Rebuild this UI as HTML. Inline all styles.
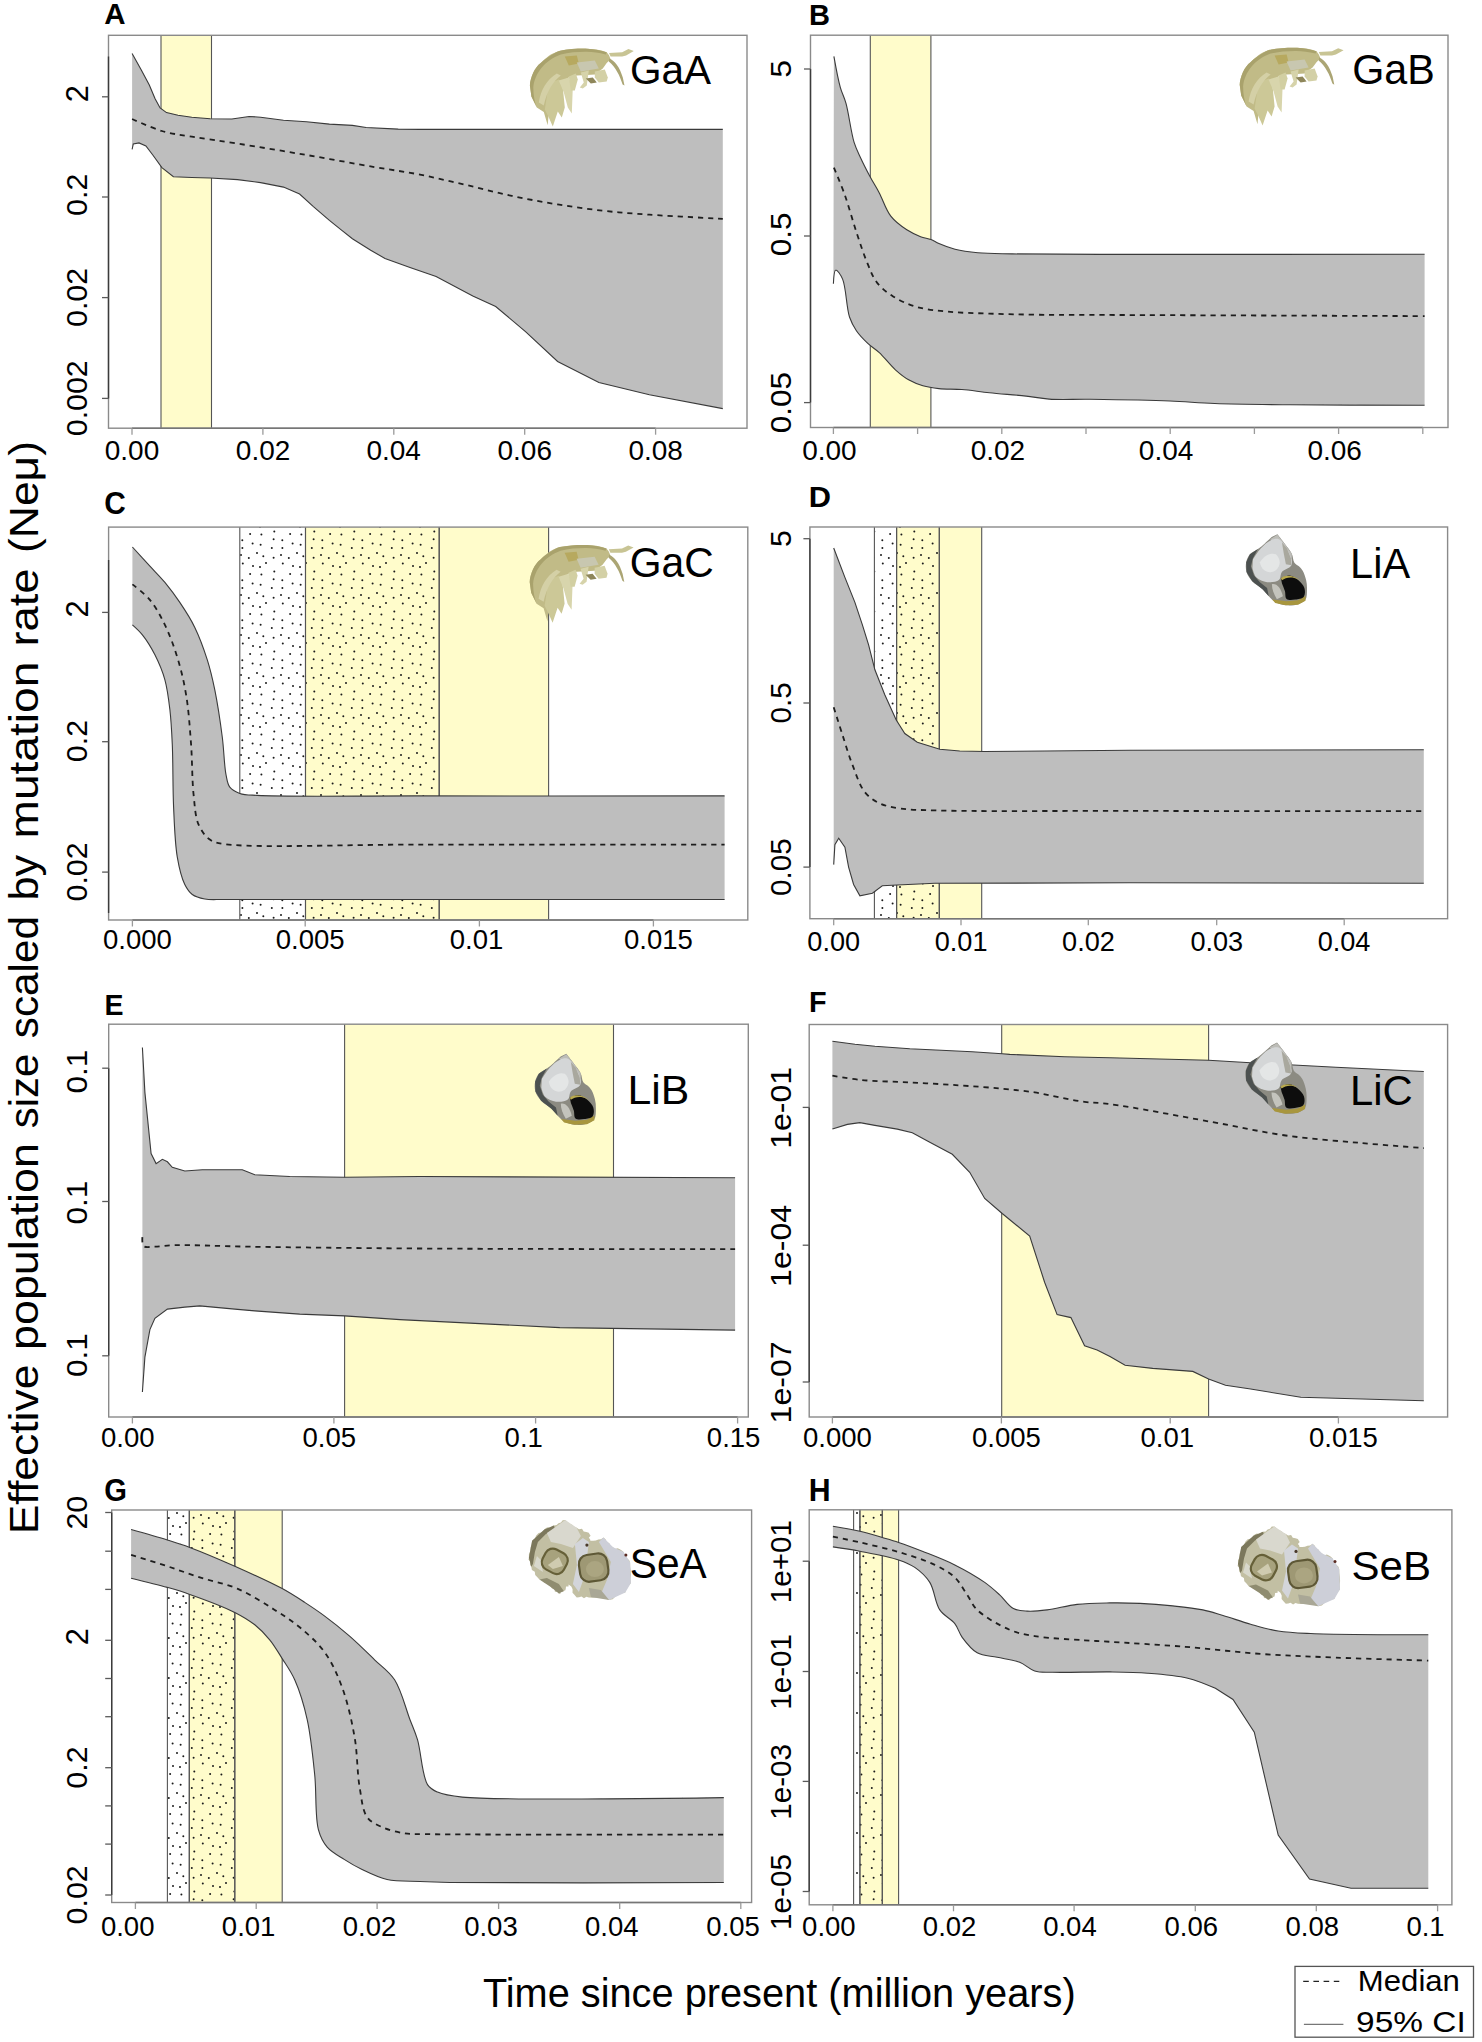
<!DOCTYPE html><html><head><meta charset="utf-8"><style>html,body{margin:0;padding:0;background:#fff;}svg{display:block;}text{font-family:"Liberation Sans",sans-serif;}</style></head><body>
<svg width="1482" height="2042" viewBox="0 0 1482 2042">
<defs><pattern id="dots" patternUnits="userSpaceOnUse" width="40" height="40"><circle cx="13" cy="6" r="1.0" fill="#1a1a1a"/><circle cx="26" cy="2.9" r="1.0" fill="#1a1a1a"/><circle cx="21.4" cy="14.6" r="1.0" fill="#1a1a1a"/><circle cx="2.3" cy="20.3" r="1.0" fill="#1a1a1a"/><circle cx="2.8" cy="3.6" r="1.0" fill="#1a1a1a"/><circle cx="17" cy="33.1" r="1.0" fill="#1a1a1a"/><circle cx="34.3" cy="11.6" r="1.0" fill="#1a1a1a"/><circle cx="12.6" cy="23.4" r="1.0" fill="#1a1a1a"/><circle cx="31.8" cy="28" r="1.0" fill="#1a1a1a"/><circle cx="33.6" cy="37.8" r="1.0" fill="#1a1a1a"/><circle cx="2.4" cy="28.1" r="1.0" fill="#1a1a1a"/><circle cx="20.6" cy="24.7" r="1.0" fill="#1a1a1a"/><circle cx="1" cy="35" r="1.0" fill="#1a1a1a"/><circle cx="10.1" cy="13.9" r="1.0" fill="#1a1a1a"/><circle cx="33.6" cy="19.2" r="1.0" fill="#1a1a1a"/><circle cx="23.3" cy="36.2" r="1.0" fill="#1a1a1a"/><circle cx="8.8" cy="38.1" r="1.0" fill="#1a1a1a"/><circle cx="20" cy="7.1" r="1.0" fill="#1a1a1a"/></pattern></defs>
<rect width="1482" height="2042" fill="#fff"/>
<rect x="161" y="35.3" width="50.5" height="392.9" fill="#FFFCCB"/>
<line x1="161" y1="35.3" x2="161" y2="428.2" stroke="#555" stroke-width="1.1"/>
<line x1="211.5" y1="35.3" x2="211.5" y2="428.2" stroke="#555" stroke-width="1.1"/>
<path d="M132.1,53.6 L141.3,70.1 L149.3,85.1 L155.1,98.8 L160.1,108 L166.5,112.6 L178,115.3 L191.8,117.2 L210.1,118.8 L231.9,119 L249.1,116.5 L260.6,117.2 L283.5,120.2 L306.5,121.8 L329.4,124.1 L352.4,125.4 L366.1,127.5 L398.2,129.1 L420,129.4 L722.8,129.4 L722.8,408.6 L722.8,408.6 L649.4,394.8 L598.9,382.6 L557.6,361.5 L525.5,331.7 L495.7,306.5 L472.8,296.1 L436.1,276.6 L410,267.5 L385,258.5 L370.7,250.2 L352.4,238.8 L340.9,229.6 L329.4,220.4 L313.4,206.6 L299.6,194 L283.5,187.1 L260.6,182.6 L237.6,179.6 L210.1,178 L191.8,177.5 L173.4,176.8 L161.9,167.6 L152.8,155 L145.9,145.9 L139,142.9 L133.3,144 L132.1,149.3 Z" fill="#BEBEBE"/>
<path d="M132.1,53.6 L141.3,70.1 L149.3,85.1 L155.1,98.8 L160.1,108 L166.5,112.6 L178,115.3 L191.8,117.2 L210.1,118.8 L231.9,119 L249.1,116.5 L260.6,117.2 L283.5,120.2 L306.5,121.8 L329.4,124.1 L352.4,125.4 L366.1,127.5 L398.2,129.1 L420,129.4 L722.8,129.4" fill="none" stroke="#3A3A3A" stroke-width="1.1"/>
<path d="M132.1,149.3 L133.3,144 L139,142.9 L145.9,145.9 L152.8,155 L161.9,167.6 L173.4,176.8 L191.8,177.5 L210.1,178 L237.6,179.6 L260.6,182.6 L283.5,187.1 L299.6,194 L313.4,206.6 L329.4,220.4 L340.9,229.6 L352.4,238.8 L370.7,250.2 L385,258.5 L410,267.5 L436.1,276.6 L472.8,296.1 L495.7,306.5 L525.5,331.7 L557.6,361.5 L598.9,382.6 L649.4,394.8 L722.8,408.6" fill="none" stroke="#3A3A3A" stroke-width="1.1"/>
<path d="M132.1,119 C132.1,119 151.8,128 161.9,131 C171.7,133.9 180.8,134.8 191.8,136.7 C205.4,139 220.8,140.9 237.6,143.6 C258.2,146.9 283.6,151.1 306.5,155 C329.5,158.9 354.8,163.7 375.3,167.2 C391.8,170 405,171.7 420,174.6 C435.2,177.6 450.6,181.4 465.9,184.9 C481.2,188.5 496.5,192.6 511.8,195.9 C527,199.1 542.3,201.9 557.6,204.4 C572.9,206.9 588.2,209.1 603.5,210.8 C618.8,212.5 632.3,213.5 649.4,214.7 C671,216.2 722.8,218.8 722.8,218.8" fill="none" stroke="#1E1E1E" stroke-width="1.8" stroke-dasharray="5.2,4.9"/>
<rect x="108.5" y="35.3" width="638.5" height="392.9" fill="none" stroke="#8A8A8A" stroke-width="1.4"/>
<line x1="108.5" y1="56.6" x2="108.5" y2="398.4" stroke="#3C3C3C" stroke-width="1.4"/>
<line x1="102" y1="96.8" x2="108.5" y2="96.8" stroke="#5A5A5A" stroke-width="1.3"/>
<line x1="102" y1="197" x2="108.5" y2="197" stroke="#5A5A5A" stroke-width="1.3"/>
<line x1="102" y1="297.6" x2="108.5" y2="297.6" stroke="#5A5A5A" stroke-width="1.3"/>
<line x1="102" y1="398.4" x2="108.5" y2="398.4" stroke="#5A5A5A" stroke-width="1.3"/>
<line x1="132" y1="428.2" x2="655.6" y2="428.2" stroke="#767676" stroke-width="1.4"/>
<line x1="132" y1="428.2" x2="132" y2="434.7" stroke="#9A9A9A" stroke-width="1.3"/>
<line x1="262.9" y1="428.2" x2="262.9" y2="434.7" stroke="#9A9A9A" stroke-width="1.3"/>
<line x1="393.8" y1="428.2" x2="393.8" y2="434.7" stroke="#9A9A9A" stroke-width="1.3"/>
<line x1="524.7" y1="428.2" x2="524.7" y2="434.7" stroke="#9A9A9A" stroke-width="1.3"/>
<line x1="655.6" y1="428.2" x2="655.6" y2="434.7" stroke="#9A9A9A" stroke-width="1.3"/>
<text x="104.79" y="460.33" font-size="27.97" font-weight="normal" textLength="54.43" lengthAdjust="spacingAndGlyphs" fill="#000">0.00</text>
<text x="235.84" y="460.33" font-size="27.97" font-weight="normal" textLength="54.43" lengthAdjust="spacingAndGlyphs" fill="#000">0.02</text>
<text x="366.45" y="460.33" font-size="27.97" font-weight="normal" textLength="54.43" lengthAdjust="spacingAndGlyphs" fill="#000">0.04</text>
<text x="497.55" y="460.33" font-size="27.97" font-weight="normal" textLength="54.43" lengthAdjust="spacingAndGlyphs" fill="#000">0.06</text>
<text x="628.45" y="460.33" font-size="27.97" font-weight="normal" textLength="54.43" lengthAdjust="spacingAndGlyphs" fill="#000">0.08</text>
<text transform="translate(87.5,100.81) rotate(-90)" x="-1.55" y="0" font-size="30.79" font-weight="normal" textLength="17.12" lengthAdjust="spacingAndGlyphs">2</text>
<text transform="translate(87.2,214.75) rotate(-90)" x="-1.19" y="0" font-size="30.37" font-weight="normal" textLength="42.21" lengthAdjust="spacingAndGlyphs">0.2</text>
<text transform="translate(87.2,325.79) rotate(-90)" x="-1.19" y="0" font-size="30.37" font-weight="normal" textLength="59.1" lengthAdjust="spacingAndGlyphs">0.02</text>
<text transform="translate(87.2,435.04) rotate(-90)" x="-1.19" y="0" font-size="30.37" font-weight="normal" textLength="75.99" lengthAdjust="spacingAndGlyphs">0.002</text>
<text x="104.27" y="24.1" font-size="29.8" font-weight="bold" textLength="21.31" lengthAdjust="spacingAndGlyphs" fill="#000">A</text>
<g transform="translate(528.8,47.4)">
<path d="M1.1,38.2 C1.5,30 6,20 11.9,15.7 C16,11.5 20,8.5 22,7.2 C26,5 28.5,4 31.3,3.3 C36,2.3 40,1.9 43,1.7 C48,1.4 53,1.2 58.5,1.3 C63,1.5 67,2 70.1,2.5 C73,3.2 76,4 77.9,4.8 L80.2,7.9 L81.8,11.8 L77.9,15.7 L74,21.1 L66,27 L58,27.5 L48,28 L40,30 L32,35 L26,42 L21,54 L18.9,77.8 L15,64.6 L8,60 L2.6,49.1 Z" fill="#C1BB87"/>
<path d="M1.1,38.2 C1.5,30 6,20 11.9,15.7 C18,10 26,5 31.3,3.3 C40,1.5 52,1 58.5,1.3 C66,1.8 72,3 77.9,4.8 L77,7 C70,5.5 64,4.5 58,4.4 C50,4.3 40,5 32,7 C24,10 17,15 13,20 C8,26 5,33 4.5,40 C4.5,48 6,55 8,60 L2.6,49.1 Z" fill="#A9A26C"/>
<path d="M20,36 L30,32 L34,40 L36,60 L33,70 L29,64 L24,79 L20,70 L16,62 Z" fill="#CCC897"/>
<path d="M30,33 L40,30 L44,40 L43,66 L39,60 L35,45 Z" fill="#D8D5AC"/>
<path d="M40,29 L47,26 L49,32 L46,43 L42,43 Z" fill="#D2CFA2"/>
<path d="M52,25 L60,23 L58,38 L54,41 L51,40 L55,35 Z" fill="#D6D3AA"/>
<path d="M57,31 L64,30 L68,35 L62,36 Z" fill="#8E865A"/>
<path d="M66,24 L76,22 L79,30 L77.9,34 L70,35 L66,30 Z" fill="#D3D0A6"/>
<path d="M10,55 C12,42 18,32 28,26 L32,28 C24,34 18,44 15,58 Z" fill="#D4D0A6"/>
<path d="M36,9 L48,8 L50,16 L40,18 Z" fill="#B7A95F"/>
<path d="M48,15 L66,13 L70,21 L52,24 Z" fill="#C8C7B0"/>
<path d="M80.2,5.6 L93.4,4.8 L99.6,1.7 L105,3.7 L97.3,8 L93.4,9.1 L81.8,9.1 Z" fill="#C8C494"/>
<path d="M80.5,11 C86,13 91,20 94,30 L95.7,38.2 L93.8,37 C91,28 87,20 80,14 Z" fill="#ABA574"/>
</g>
<text x="629.96" y="83.9" font-size="41.28" font-weight="normal" textLength="81.12" lengthAdjust="spacingAndGlyphs" fill="#000">GaA</text>
<rect x="870.3" y="35.2" width="60.6" height="392.3" fill="#FFFCCB"/>
<line x1="870.3" y1="35.2" x2="870.3" y2="427.5" stroke="#555" stroke-width="1.1"/>
<line x1="930.9" y1="35.2" x2="930.9" y2="427.5" stroke="#555" stroke-width="1.1"/>
<path d="M833.9,56.4 C833.9,56.4 837.9,78.8 840.3,87.4 C842.1,93.7 844.2,96.8 846,103.4 C848.8,113.5 851,132.3 854.1,142.4 C856.2,149.1 858.4,153 860.9,158.5 C863.6,164.4 867,170.9 870.1,176.8 C873.1,182.4 876.2,187 879.3,192.9 C883,199.9 885.9,209.8 890.8,216.1 C895.2,221.8 901.4,226.2 906.8,229.8 C911.4,232.8 916.3,235 920.6,236.7 C924.2,238.1 927.7,238.3 930.9,239.5 C933.8,240.6 935.7,242.2 938.9,243.6 C943.3,245.5 949.1,247.8 955,249.3 C961.9,251 969.5,252 977.9,252.8 C988.2,253.7 998.2,253.6 1012.3,253.9 C1034.8,254.3 1061.5,254.3 1100,254.4 C1174,254.6 1424.6,254.2 1424.6,254.2 L1424.6,405.3 L1424.6,405.3 C1424.6,405.3 1328.1,405.2 1289.7,404.8 C1261.1,404.5 1236.6,404.3 1214.8,403.5 C1197.9,402.9 1187,401.7 1169.9,401 C1147.1,400.1 1112.2,399.6 1090,399.3 C1074.1,399.1 1060.8,399.9 1049.1,399.1 C1040.3,398.5 1034.7,397.1 1026.1,396.1 C1015.3,394.9 1000.7,393.9 989.4,392.7 C979.6,391.7 970.7,390.2 961.9,389.5 C953.9,388.9 945.9,389.3 938.9,388.6 C933.1,388 928,387.3 922.9,385.8 C918,384.4 913.5,382.6 909.1,380.1 C904.3,377.4 900,373.9 895.4,369.8 C890,365 884.4,357.3 879.3,352.6 C875.3,348.9 871.5,346.9 867.8,343.4 C863.8,339.7 859.5,335.3 856.4,330.8 C853.5,326.5 851.5,322.9 849.5,317 C846.4,307.7 846.1,287.2 842.6,279.1 C840.7,274.7 837.2,269.6 835.7,270 C834,270.4 833.4,283.7 833.4,283.7 Z" fill="#BEBEBE"/>
<path d="M833.9,56.4 C833.9,56.4 837.9,78.8 840.3,87.4 C842.1,93.7 844.2,96.8 846,103.4 C848.8,113.5 851,132.3 854.1,142.4 C856.2,149.1 858.4,153 860.9,158.5 C863.6,164.4 867,170.9 870.1,176.8 C873.1,182.4 876.2,187 879.3,192.9 C883,199.9 885.9,209.8 890.8,216.1 C895.2,221.8 901.4,226.2 906.8,229.8 C911.4,232.8 916.3,235 920.6,236.7 C924.2,238.1 927.7,238.3 930.9,239.5 C933.8,240.6 935.7,242.2 938.9,243.6 C943.3,245.5 949.1,247.8 955,249.3 C961.9,251 969.5,252 977.9,252.8 C988.2,253.7 998.2,253.6 1012.3,253.9 C1034.8,254.3 1061.5,254.3 1100,254.4 C1174,254.6 1424.6,254.2 1424.6,254.2" fill="none" stroke="#3A3A3A" stroke-width="1.1"/>
<path d="M833.4,283.7 C833.4,283.7 834,270.4 835.7,270 C837.2,269.6 840.7,274.7 842.6,279.1 C846.1,287.2 846.4,307.7 849.5,317 C851.5,322.9 853.5,326.5 856.4,330.8 C859.5,335.3 863.8,339.7 867.8,343.4 C871.5,346.9 875.3,348.9 879.3,352.6 C884.4,357.3 890,365 895.4,369.8 C900,373.9 904.3,377.4 909.1,380.1 C913.5,382.6 918,384.4 922.9,385.8 C928,387.3 933.1,388 938.9,388.6 C945.9,389.3 953.9,388.9 961.9,389.5 C970.7,390.2 979.6,391.7 989.4,392.7 C1000.7,393.9 1015.3,394.9 1026.1,396.1 C1034.7,397.1 1040.3,398.5 1049.1,399.1 C1060.8,399.9 1074.1,399.1 1090,399.3 C1112.2,399.6 1147.1,400.1 1169.9,401 C1187,401.7 1197.9,402.9 1214.8,403.5 C1236.6,404.3 1261.1,404.5 1289.7,404.8 C1328.1,405.2 1424.6,405.3 1424.6,405.3" fill="none" stroke="#3A3A3A" stroke-width="1.1"/>
<path d="M833.9,167.6 C833.9,167.6 841.4,185.3 844.9,195.2 C848.9,206.5 852.5,220.3 856.4,232.1 C860.1,243.2 863.9,255.1 867.8,264.2 C870.8,271.3 872.8,277.3 877,282.6 C881.2,288 886.9,292.5 893.1,296.4 C899.8,300.7 907.5,304.2 916,306.7 C925.6,309.6 936.7,310.6 948.1,311.7 C961,313 975.3,313.1 989.4,313.6 C1004.3,314.1 1019.3,314.5 1035.3,314.7 C1052.7,314.9 1064,314.8 1090,314.9 C1154.2,315.1 1424.6,316.1 1424.6,316.1" fill="none" stroke="#1E1E1E" stroke-width="1.8" stroke-dasharray="5.2,4.9"/>
<rect x="810.5" y="35.2" width="637.5" height="392.3" fill="none" stroke="#8A8A8A" stroke-width="1.4"/>
<line x1="810.5" y1="69" x2="810.5" y2="402.6" stroke="#3C3C3C" stroke-width="1.4"/>
<line x1="804" y1="69" x2="810.5" y2="69" stroke="#5A5A5A" stroke-width="1.3"/>
<line x1="804" y1="236" x2="810.5" y2="236" stroke="#5A5A5A" stroke-width="1.3"/>
<line x1="804" y1="402.6" x2="810.5" y2="402.6" stroke="#5A5A5A" stroke-width="1.3"/>
<line x1="833.4" y1="427.5" x2="1422.8" y2="427.5" stroke="#767676" stroke-width="1.4"/>
<line x1="833.4" y1="427.5" x2="833.4" y2="434" stroke="#9A9A9A" stroke-width="1.3"/>
<line x1="917.6" y1="427.5" x2="917.6" y2="434" stroke="#9A9A9A" stroke-width="1.3"/>
<line x1="1001.8" y1="427.5" x2="1001.8" y2="434" stroke="#9A9A9A" stroke-width="1.3"/>
<line x1="1086" y1="427.5" x2="1086" y2="434" stroke="#9A9A9A" stroke-width="1.3"/>
<line x1="1170.2" y1="427.5" x2="1170.2" y2="434" stroke="#9A9A9A" stroke-width="1.3"/>
<line x1="1254.4" y1="427.5" x2="1254.4" y2="434" stroke="#9A9A9A" stroke-width="1.3"/>
<line x1="1338.6" y1="427.5" x2="1338.6" y2="434" stroke="#9A9A9A" stroke-width="1.3"/>
<line x1="1422.8" y1="427.5" x2="1422.8" y2="434" stroke="#9A9A9A" stroke-width="1.3"/>
<text x="802.19" y="460.33" font-size="27.97" font-weight="normal" textLength="54.43" lengthAdjust="spacingAndGlyphs" fill="#000">0.00</text>
<text x="970.74" y="460.33" font-size="27.97" font-weight="normal" textLength="54.43" lengthAdjust="spacingAndGlyphs" fill="#000">0.02</text>
<text x="1138.85" y="460.33" font-size="27.97" font-weight="normal" textLength="54.43" lengthAdjust="spacingAndGlyphs" fill="#000">0.04</text>
<text x="1307.45" y="460.33" font-size="27.97" font-weight="normal" textLength="54.43" lengthAdjust="spacingAndGlyphs" fill="#000">0.06</text>
<text transform="translate(791.21,76.56) rotate(-90)" x="-1.28" y="0" font-size="30.1" font-weight="normal" textLength="17.74" lengthAdjust="spacingAndGlyphs">5</text>
<text transform="translate(791.21,255.08) rotate(-90)" x="-1.23" y="0" font-size="29.66" font-weight="normal" textLength="43.71" lengthAdjust="spacingAndGlyphs">0.5</text>
<text transform="translate(791.21,431.92) rotate(-90)" x="-1.23" y="0" font-size="29.66" font-weight="normal" textLength="61.19" lengthAdjust="spacingAndGlyphs">0.05</text>
<text x="809.06" y="25.2" font-size="29.94" font-weight="bold" textLength="20.96" lengthAdjust="spacingAndGlyphs" fill="#000">B</text>
<g transform="translate(1238.6,46.5)">
<path d="M1.1,38.2 C1.5,30 6,20 11.9,15.7 C16,11.5 20,8.5 22,7.2 C26,5 28.5,4 31.3,3.3 C36,2.3 40,1.9 43,1.7 C48,1.4 53,1.2 58.5,1.3 C63,1.5 67,2 70.1,2.5 C73,3.2 76,4 77.9,4.8 L80.2,7.9 L81.8,11.8 L77.9,15.7 L74,21.1 L66,27 L58,27.5 L48,28 L40,30 L32,35 L26,42 L21,54 L18.9,77.8 L15,64.6 L8,60 L2.6,49.1 Z" fill="#C1BB87"/>
<path d="M1.1,38.2 C1.5,30 6,20 11.9,15.7 C18,10 26,5 31.3,3.3 C40,1.5 52,1 58.5,1.3 C66,1.8 72,3 77.9,4.8 L77,7 C70,5.5 64,4.5 58,4.4 C50,4.3 40,5 32,7 C24,10 17,15 13,20 C8,26 5,33 4.5,40 C4.5,48 6,55 8,60 L2.6,49.1 Z" fill="#A9A26C"/>
<path d="M20,36 L30,32 L34,40 L36,60 L33,70 L29,64 L24,79 L20,70 L16,62 Z" fill="#CCC897"/>
<path d="M30,33 L40,30 L44,40 L43,66 L39,60 L35,45 Z" fill="#D8D5AC"/>
<path d="M40,29 L47,26 L49,32 L46,43 L42,43 Z" fill="#D2CFA2"/>
<path d="M52,25 L60,23 L58,38 L54,41 L51,40 L55,35 Z" fill="#D6D3AA"/>
<path d="M57,31 L64,30 L68,35 L62,36 Z" fill="#8E865A"/>
<path d="M66,24 L76,22 L79,30 L77.9,34 L70,35 L66,30 Z" fill="#D3D0A6"/>
<path d="M10,55 C12,42 18,32 28,26 L32,28 C24,34 18,44 15,58 Z" fill="#D4D0A6"/>
<path d="M36,9 L48,8 L50,16 L40,18 Z" fill="#B7A95F"/>
<path d="M48,15 L66,13 L70,21 L52,24 Z" fill="#C8C7B0"/>
<path d="M80.2,5.6 L93.4,4.8 L99.6,1.7 L105,3.7 L97.3,8 L93.4,9.1 L81.8,9.1 Z" fill="#C8C494"/>
<path d="M80.5,11 C86,13 91,20 94,30 L95.7,38.2 L93.8,37 C91,28 87,20 80,14 Z" fill="#ABA574"/>
</g>
<text x="1352.23" y="84.2" font-size="41.72" font-weight="normal" textLength="82.55" lengthAdjust="spacingAndGlyphs" fill="#000">GaB</text>
<rect x="239.8" y="527.1" width="65.7" height="392.9" fill="url(#dots)"/>
<rect x="305.5" y="527.1" width="133.7" height="392.9" fill="#FFFCCB"/>
<rect x="305.5" y="527.1" width="133.7" height="392.9" fill="url(#dots)"/>
<rect x="439.2" y="527.1" width="109.4" height="392.9" fill="#FFFCCB"/>
<line x1="239.8" y1="527.1" x2="239.8" y2="920" stroke="#555" stroke-width="1.1"/>
<line x1="305.5" y1="527.1" x2="305.5" y2="920" stroke="#555" stroke-width="1.1"/>
<line x1="305.5" y1="527.1" x2="305.5" y2="920" stroke="#555" stroke-width="1.1"/>
<line x1="439.2" y1="527.1" x2="439.2" y2="920" stroke="#555" stroke-width="1.1"/>
<line x1="439.2" y1="527.1" x2="439.2" y2="920" stroke="#555" stroke-width="1.1"/>
<line x1="548.6" y1="527.1" x2="548.6" y2="920" stroke="#555" stroke-width="1.1"/>
<path d="M132.4,547 C132.4,547 144.3,560.1 149.9,566.2 C155.1,571.8 160.1,576.6 164.9,582.4 C170,588.6 175,595.2 179.8,602.4 C185,610.1 190.4,618.3 194.8,627.4 C199.6,637.3 203.9,649.1 207.3,659.8 C210.5,669.9 212.5,678.6 214.8,689.8 C217.6,703.7 220.4,722.3 222.3,737.2 C224,750.4 224.2,765.6 226,774.7 C227.1,780.1 227.4,784.1 229.8,787.2 C232.1,790.2 235.8,792 239.8,793.4 C244.6,795.1 248.4,794.9 257.2,795.4 C283.9,797 357.3,795.8 420,795.9 C505.8,796 724.6,795.9 724.6,795.9 L724.6,899.5 L724.6,899.5 C724.6,899.5 510.3,899.5 420,899.5 C347.7,899.5 256.4,899.9 224.8,899.5 C214.7,899.4 210.6,900.1 204.8,899 C200.1,898.1 195.7,897 192.3,894.5 C189,892.1 187,888.9 184.8,884.5 C181.5,877.8 179.1,867.7 177.3,857.1 C174.9,843 174.4,824.7 173.6,807.1 C172.7,787.5 173.1,762.5 172.3,744.7 C171.7,731.4 171.2,721 169.9,709.8 C168.7,699.4 167.5,689.2 164.9,679.8 C162.4,670.9 158.8,662.5 154.9,654.8 C151.2,647.6 146.6,640.2 142.4,634.9 C139.1,630.8 132.4,624.9 132.4,624.9 Z" fill="#BEBEBE"/>
<path d="M132.4,547 C132.4,547 144.3,560.1 149.9,566.2 C155.1,571.8 160.1,576.6 164.9,582.4 C170,588.6 175,595.2 179.8,602.4 C185,610.1 190.4,618.3 194.8,627.4 C199.6,637.3 203.9,649.1 207.3,659.8 C210.5,669.9 212.5,678.6 214.8,689.8 C217.6,703.7 220.4,722.3 222.3,737.2 C224,750.4 224.2,765.6 226,774.7 C227.1,780.1 227.4,784.1 229.8,787.2 C232.1,790.2 235.8,792 239.8,793.4 C244.6,795.1 248.4,794.9 257.2,795.4 C283.9,797 357.3,795.8 420,795.9 C505.8,796 724.6,795.9 724.6,795.9" fill="none" stroke="#3A3A3A" stroke-width="1.1"/>
<path d="M132.4,624.9 C132.4,624.9 139.1,630.8 142.4,634.9 C146.6,640.2 151.2,647.6 154.9,654.8 C158.8,662.5 162.4,670.9 164.9,679.8 C167.5,689.2 168.7,699.4 169.9,709.8 C171.2,721 171.7,731.4 172.3,744.7 C173.1,762.5 172.7,787.5 173.6,807.1 C174.4,824.7 174.9,843 177.3,857.1 C179.1,867.7 181.5,877.8 184.8,884.5 C187,888.9 189,892.1 192.3,894.5 C195.7,897 200.1,898.1 204.8,899 C210.6,900.1 214.7,899.4 224.8,899.5 C256.4,899.9 347.7,899.5 420,899.5 C510.3,899.5 724.6,899.5 724.6,899.5" fill="none" stroke="#3A3A3A" stroke-width="1.1"/>
<path d="M132.4,584.4 C132.4,584.4 144.7,593.6 149.9,599.9 C155.7,606.9 160.5,615.8 164.9,624.9 C169.7,634.8 173.8,646 177.3,657.3 C181,669.2 183.9,681.3 186.1,694.8 C188.7,710.2 189.8,728 191.1,744.7 C192.3,761.3 192,780.2 193.6,794.7 C194.8,806 195.2,816.7 198.6,824.6 C201.3,830.8 205.2,836.4 209.8,839.6 C214,842.6 216.8,842.9 224.8,844.1 C252.9,848.3 347.7,844.5 420,844.6 C510.3,844.7 724.6,844.6 724.6,844.6" fill="none" stroke="#1E1E1E" stroke-width="1.8" stroke-dasharray="5.2,4.9"/>
<rect x="108.6" y="527.1" width="639.2" height="392.9" fill="none" stroke="#8A8A8A" stroke-width="1.4"/>
<line x1="108.6" y1="560" x2="108.6" y2="913" stroke="#3C3C3C" stroke-width="1.4"/>
<line x1="102.1" y1="612.4" x2="108.6" y2="612.4" stroke="#5A5A5A" stroke-width="1.3"/>
<line x1="102.1" y1="741.7" x2="108.6" y2="741.7" stroke="#5A5A5A" stroke-width="1.3"/>
<line x1="102.1" y1="872.1" x2="108.6" y2="872.1" stroke="#5A5A5A" stroke-width="1.3"/>
<line x1="132.4" y1="920" x2="653.4" y2="920" stroke="#767676" stroke-width="1.4"/>
<line x1="132.4" y1="920" x2="132.4" y2="926.5" stroke="#9A9A9A" stroke-width="1.3"/>
<line x1="305.2" y1="920" x2="305.2" y2="926.5" stroke="#9A9A9A" stroke-width="1.3"/>
<line x1="479.4" y1="920" x2="479.4" y2="926.5" stroke="#9A9A9A" stroke-width="1.3"/>
<line x1="653.4" y1="920" x2="653.4" y2="926.5" stroke="#9A9A9A" stroke-width="1.3"/>
<text x="102.94" y="949.23" font-size="27.54" font-weight="normal" textLength="68.92" lengthAdjust="spacingAndGlyphs" fill="#000">0.000</text>
<text x="275.78" y="949.23" font-size="27.54" font-weight="normal" textLength="68.92" lengthAdjust="spacingAndGlyphs" fill="#000">0.005</text>
<text x="449.73" y="949.23" font-size="27.54" font-weight="normal" textLength="53.6" lengthAdjust="spacingAndGlyphs" fill="#000">0.01</text>
<text x="623.98" y="949.23" font-size="27.54" font-weight="normal" textLength="68.92" lengthAdjust="spacingAndGlyphs" fill="#000">0.015</text>
<text transform="translate(87.5,615.91) rotate(-90)" x="-1.55" y="0" font-size="30.79" font-weight="normal" textLength="17.12" lengthAdjust="spacingAndGlyphs">2</text>
<text transform="translate(87.2,760.95) rotate(-90)" x="-1.19" y="0" font-size="30.37" font-weight="normal" textLength="42.21" lengthAdjust="spacingAndGlyphs">0.2</text>
<text transform="translate(87.2,900.29) rotate(-90)" x="-1.19" y="0" font-size="30.37" font-weight="normal" textLength="59.1" lengthAdjust="spacingAndGlyphs">0.02</text>
<text x="104.28" y="513.6" font-size="30.67" font-weight="bold" textLength="21.54" lengthAdjust="spacingAndGlyphs" fill="#000">C</text>
<g transform="translate(528.6,543.7)">
<path d="M1.1,38.2 C1.5,30 6,20 11.9,15.7 C16,11.5 20,8.5 22,7.2 C26,5 28.5,4 31.3,3.3 C36,2.3 40,1.9 43,1.7 C48,1.4 53,1.2 58.5,1.3 C63,1.5 67,2 70.1,2.5 C73,3.2 76,4 77.9,4.8 L80.2,7.9 L81.8,11.8 L77.9,15.7 L74,21.1 L66,27 L58,27.5 L48,28 L40,30 L32,35 L26,42 L21,54 L18.9,77.8 L15,64.6 L8,60 L2.6,49.1 Z" fill="#C1BB87"/>
<path d="M1.1,38.2 C1.5,30 6,20 11.9,15.7 C18,10 26,5 31.3,3.3 C40,1.5 52,1 58.5,1.3 C66,1.8 72,3 77.9,4.8 L77,7 C70,5.5 64,4.5 58,4.4 C50,4.3 40,5 32,7 C24,10 17,15 13,20 C8,26 5,33 4.5,40 C4.5,48 6,55 8,60 L2.6,49.1 Z" fill="#A9A26C"/>
<path d="M20,36 L30,32 L34,40 L36,60 L33,70 L29,64 L24,79 L20,70 L16,62 Z" fill="#CCC897"/>
<path d="M30,33 L40,30 L44,40 L43,66 L39,60 L35,45 Z" fill="#D8D5AC"/>
<path d="M40,29 L47,26 L49,32 L46,43 L42,43 Z" fill="#D2CFA2"/>
<path d="M52,25 L60,23 L58,38 L54,41 L51,40 L55,35 Z" fill="#D6D3AA"/>
<path d="M57,31 L64,30 L68,35 L62,36 Z" fill="#8E865A"/>
<path d="M66,24 L76,22 L79,30 L77.9,34 L70,35 L66,30 Z" fill="#D3D0A6"/>
<path d="M10,55 C12,42 18,32 28,26 L32,28 C24,34 18,44 15,58 Z" fill="#D4D0A6"/>
<path d="M36,9 L48,8 L50,16 L40,18 Z" fill="#B7A95F"/>
<path d="M48,15 L66,13 L70,21 L52,24 Z" fill="#C8C7B0"/>
<path d="M80.2,5.6 L93.4,4.8 L99.6,1.7 L105,3.7 L97.3,8 L93.4,9.1 L81.8,9.1 Z" fill="#C8C494"/>
<path d="M80.5,11 C86,13 91,20 94,30 L95.7,38.2 L93.8,37 C91,28 87,20 80,14 Z" fill="#ABA574"/>
</g>
<text x="629.65" y="577.4" font-size="42.73" font-weight="normal" textLength="84.01" lengthAdjust="spacingAndGlyphs" fill="#000">GaC</text>
<rect x="874.4" y="527" width="22.2" height="391.7" fill="url(#dots)"/>
<rect x="896.6" y="527" width="42.7" height="391.7" fill="#FFFCCB"/>
<rect x="896.6" y="527" width="42.7" height="391.7" fill="url(#dots)"/>
<rect x="939.3" y="527" width="42.4" height="391.7" fill="#FFFCCB"/>
<line x1="874.4" y1="527" x2="874.4" y2="918.7" stroke="#555" stroke-width="1.1"/>
<line x1="896.6" y1="527" x2="896.6" y2="918.7" stroke="#555" stroke-width="1.1"/>
<line x1="896.6" y1="527" x2="896.6" y2="918.7" stroke="#555" stroke-width="1.1"/>
<line x1="939.3" y1="527" x2="939.3" y2="918.7" stroke="#555" stroke-width="1.1"/>
<line x1="939.3" y1="527" x2="939.3" y2="918.7" stroke="#555" stroke-width="1.1"/>
<line x1="981.7" y1="527" x2="981.7" y2="918.7" stroke="#555" stroke-width="1.1"/>
<path d="M833.7,548 L844.9,577.4 L854.9,602.4 L862.4,624.9 L868.6,644.8 L874.9,669.8 L884.8,694.8 L896.1,719.8 L904.8,733.5 L917.3,742.2 L939.8,749.2 L959.8,751 L984.7,751.5 L1130,750.2 L1423.8,749.7 L1423.8,883.2 L1423.8,883.2 L1130,882.8 L934.8,883.3 L897.3,885 L882.3,885.8 L872.4,893.3 L859.9,895.8 L853.6,884.5 L848.6,867.1 L844.9,847.1 L838.7,838.3 L834.9,844.6 L833.7,864.6 Z" fill="#BEBEBE"/>
<path d="M833.7,548 L844.9,577.4 L854.9,602.4 L862.4,624.9 L868.6,644.8 L874.9,669.8 L884.8,694.8 L896.1,719.8 L904.8,733.5 L917.3,742.2 L939.8,749.2 L959.8,751 L984.7,751.5 L1130,750.2 L1423.8,749.7" fill="none" stroke="#3A3A3A" stroke-width="1.1"/>
<path d="M833.7,864.6 L834.9,844.6 L838.7,838.3 L844.9,847.1 L848.6,867.1 L853.6,884.5 L859.9,895.8 L872.4,893.3 L882.3,885.8 L897.3,885 L934.8,883.3 L1130,882.8 L1423.8,883.2" fill="none" stroke="#3A3A3A" stroke-width="1.1"/>
<path d="M833.7,707.3 C833.7,707.3 839.4,725.4 842.4,734.7 C845.6,744.5 848.6,755 852.4,764.7 C856.1,774.2 859.5,785.5 864.9,792.2 C869.1,797.5 874.2,800.7 879.8,803.4 C885.7,806.2 892.1,807.2 899.8,808.4 C909.8,809.9 918.4,809.9 934.8,810.4 C973.5,811.6 1058.3,810.8 1130,810.9 C1218,811.1 1423.8,811.2 1423.8,811.2" fill="none" stroke="#1E1E1E" stroke-width="1.8" stroke-dasharray="5.2,4.9"/>
<rect x="809.9" y="527" width="637.7" height="391.7" fill="none" stroke="#8A8A8A" stroke-width="1.4"/>
<line x1="809.9" y1="538.7" x2="809.9" y2="867.1" stroke="#3C3C3C" stroke-width="1.4"/>
<line x1="803.4" y1="538.7" x2="809.9" y2="538.7" stroke="#5A5A5A" stroke-width="1.3"/>
<line x1="803.4" y1="703" x2="809.9" y2="703" stroke="#5A5A5A" stroke-width="1.3"/>
<line x1="803.4" y1="867.1" x2="809.9" y2="867.1" stroke="#5A5A5A" stroke-width="1.3"/>
<line x1="833.7" y1="918.7" x2="1344.2" y2="918.7" stroke="#767676" stroke-width="1.4"/>
<line x1="833.7" y1="918.7" x2="833.7" y2="925.2" stroke="#9A9A9A" stroke-width="1.3"/>
<line x1="961" y1="918.7" x2="961" y2="925.2" stroke="#9A9A9A" stroke-width="1.3"/>
<line x1="1088.3" y1="918.7" x2="1088.3" y2="925.2" stroke="#9A9A9A" stroke-width="1.3"/>
<line x1="1216.7" y1="918.7" x2="1216.7" y2="925.2" stroke="#9A9A9A" stroke-width="1.3"/>
<line x1="1344.2" y1="918.7" x2="1344.2" y2="925.2" stroke="#9A9A9A" stroke-width="1.3"/>
<text x="807.31" y="950.74" font-size="27.12" font-weight="normal" textLength="52.78" lengthAdjust="spacingAndGlyphs" fill="#000">0.00</text>
<text x="934.74" y="950.74" font-size="27.12" font-weight="normal" textLength="52.78" lengthAdjust="spacingAndGlyphs" fill="#000">0.01</text>
<text x="1062.06" y="950.74" font-size="27.12" font-weight="normal" textLength="52.78" lengthAdjust="spacingAndGlyphs" fill="#000">0.02</text>
<text x="1190.38" y="950.74" font-size="27.12" font-weight="normal" textLength="52.78" lengthAdjust="spacingAndGlyphs" fill="#000">0.03</text>
<text x="1317.68" y="950.74" font-size="27.12" font-weight="normal" textLength="52.78" lengthAdjust="spacingAndGlyphs" fill="#000">0.04</text>
<text transform="translate(791.21,545.83) rotate(-90)" x="-1.21" y="0" font-size="30.1" font-weight="normal" textLength="16.74" lengthAdjust="spacingAndGlyphs">5</text>
<text transform="translate(791.21,722.41) rotate(-90)" x="-1.16" y="0" font-size="29.66" font-weight="normal" textLength="41.23" lengthAdjust="spacingAndGlyphs">0.5</text>
<text transform="translate(791.21,894.76) rotate(-90)" x="-1.16" y="0" font-size="29.66" font-weight="normal" textLength="57.73" lengthAdjust="spacingAndGlyphs">0.05</text>
<text x="808.84" y="507" font-size="30.23" font-weight="bold" textLength="22.26" lengthAdjust="spacingAndGlyphs" fill="#000">D</text>
<g transform="translate(1245.9,534.2)">
<path d="M31.5,0 C31.5,0 36.6,6.4 39,9.7 C41.4,12.9 44.3,16.2 45.9,19.5 C47.3,22.4 47,26.3 48.5,28.5 C49.6,30.2 51.6,30.7 53,32 C54.4,33.3 55.7,34.6 56.8,36.5 C58.2,39 59.5,42.7 60.2,45.9 C60.9,48.9 61.2,51.9 61.1,55 C61,58.4 61.3,62.9 59.6,65.4 C58.1,67.7 55.1,69 52.2,70 C48.9,71.1 44.5,71.5 40.7,71.1 C36.9,70.7 32.4,69.4 29.3,67.7 C26.7,66.2 25,64.1 22.9,62 C20.7,59.8 19.1,57.3 16.6,55 C13.7,52.3 9,50 6.3,47 C3.8,44.2 1.6,41 0.6,37.8 C-0.3,34.7 -0.3,31.1 0.3,28.1 C0.9,25.2 2.1,22.3 4,20.1 C6,17.8 9.5,16.7 12,14.9 C14.4,13.1 16.6,11.2 18.9,9.2 C21.2,7.2 25.8,2.9 25.8,2.9 Z" fill="#8C8B82"/>
<path d="M0.3,28.1 L4,20.1 L12,14.9 L7,24 L5,32 L8,41 L14,48 L21.2,53.9 L22.9,62 L16.6,55 L6.3,47 L0.6,37.8 Z" fill="#4C5150"/>
<path d="M24,5 L31.5,0.5 L39,9.7 L45.9,19.5 L46,30 L35,9.7 Z" fill="#BDBDB8"/>
<path d="M7,25.2 C7,25.2 11.9,17.2 15,14 C18,10.9 21.7,7.4 25,6 C27.7,4.9 30.6,4.1 33,5 C35.7,6 38.1,10.1 40,13 C41.9,15.8 43.6,18.9 44.5,22 C45.4,24.9 46.6,28.5 45.5,31 C44.2,33.9 38.1,35.1 36,37.8 C34.2,40.2 35.1,44.2 33,45.9 C30.6,47.9 25,48.5 21.2,48 C17.4,47.5 12.8,45.6 10.3,43 C8.1,40.7 6.5,33.8 6.5,33.8 Z" fill="#D4D6D7"/>
<path d="M14,28 C18,22 24,18 30,20 C34,24 36,30 30,36 C24,40 16,38 14,28 Z" fill="#E4E6E6"/>
<path d="M36,8 L41,14 L45,24 L45.5,31 L40,30 L38,20 Z" fill="#A9A89E"/>
<path d="M26.4,65.4 L40.7,67.1 L52.2,66 L59.6,61.9 L59.6,66.5 L52.2,70.5 L39.6,71.1 L29.3,68.8 Z" fill="#A8963E"/>
<path d="M35,44.1 C35,44.1 40.8,41.1 43.6,41.3 C46.5,41.6 49.7,43.8 52.2,45.9 C54.7,48 57.6,51 58.5,53.9 C59.3,56.6 59.4,60.6 57.9,62.5 C56.4,64.5 52.2,65 49.3,65.4 C46.5,65.8 42.4,66.3 40.7,64.8 C39,63.4 39.8,59.4 39,56.8 C38.2,54.2 36.1,49.3 36.1,49.3 Z" fill="#0D0D0D"/>
<path d="M35,44 C40,40 48,41 55,47 L52,45 C46,42 40,43 36,46 Z" fill="#B9AA4E"/>
<path d="M26,50 C31,49 35,54 37,62 L31,65 C28,60 26,55 26,50 Z" fill="#C4C4BD"/>
</g>
<text x="1350.1" y="577.7" font-size="41.86" font-weight="normal" textLength="59.99" lengthAdjust="spacingAndGlyphs" fill="#000">LiA</text>
<rect x="344.6" y="1024.2" width="268.9" height="392.8" fill="#FFFCCB"/>
<line x1="344.6" y1="1024.2" x2="344.6" y2="1417" stroke="#555" stroke-width="1.1"/>
<line x1="613.5" y1="1024.2" x2="613.5" y2="1417" stroke="#555" stroke-width="1.1"/>
<path d="M142.4,1047.5 L144.9,1092.4 L151.1,1153.6 L156.1,1163.6 L162.4,1159.3 L167.4,1161.8 L172.3,1167.3 L184.8,1171 L202.3,1169.8 L242.3,1169.8 L254.8,1174.8 L289.7,1176.5 L344.6,1177.3 L420,1176.5 L735.1,1177.8 L735.1,1330.1 L735.1,1330.1 L559.8,1327.6 L400,1319.6 L344.6,1315.9 L299.7,1314.1 L254.8,1310.9 L234.8,1309.1 L199.8,1305.9 L184.8,1307.1 L167.4,1309.1 L154.9,1318.4 L149.9,1329.6 L144.9,1357.1 L142.4,1392 Z" fill="#BEBEBE"/>
<path d="M142.4,1047.5 L144.9,1092.4 L151.1,1153.6 L156.1,1163.6 L162.4,1159.3 L167.4,1161.8 L172.3,1167.3 L184.8,1171 L202.3,1169.8 L242.3,1169.8 L254.8,1174.8 L289.7,1176.5 L344.6,1177.3 L420,1176.5 L735.1,1177.8" fill="none" stroke="#3A3A3A" stroke-width="1.1"/>
<path d="M142.4,1392 L144.9,1357.1 L149.9,1329.6 L154.9,1318.4 L167.4,1309.1 L184.8,1307.1 L199.8,1305.9 L234.8,1309.1 L254.8,1310.9 L299.7,1314.1 L344.6,1315.9 L400,1319.6 L559.8,1327.6 L735.1,1330.1" fill="none" stroke="#3A3A3A" stroke-width="1.1"/>
<path d="M142.4,1237.2 C142.4,1237.2 141.8,1244.3 143.6,1246 C145.6,1247.9 150.6,1246.7 154.9,1246.7 C160.6,1246.7 166,1245.4 174.8,1245.2 C191.8,1244.7 219.7,1246.2 249.8,1246.7 C295.1,1247.4 354.6,1248.1 420,1248.5 C509,1249.1 735.1,1249.2 735.1,1249.2" fill="none" stroke="#1E1E1E" stroke-width="1.8" stroke-dasharray="5.2,4.9"/>
<rect x="108.7" y="1024.2" width="639.6" height="392.8" fill="none" stroke="#8A8A8A" stroke-width="1.4"/>
<line x1="108.7" y1="1068.2" x2="108.7" y2="1355.8" stroke="#3C3C3C" stroke-width="1.4"/>
<line x1="102.2" y1="1068.2" x2="108.7" y2="1068.2" stroke="#5A5A5A" stroke-width="1.3"/>
<line x1="102.2" y1="1201.5" x2="108.7" y2="1201.5" stroke="#5A5A5A" stroke-width="1.3"/>
<line x1="102.2" y1="1355.8" x2="108.7" y2="1355.8" stroke="#5A5A5A" stroke-width="1.3"/>
<line x1="132.4" y1="1417" x2="737.6" y2="1417" stroke="#767676" stroke-width="1.4"/>
<line x1="132.4" y1="1417" x2="132.4" y2="1423.5" stroke="#9A9A9A" stroke-width="1.3"/>
<line x1="333.9" y1="1417" x2="333.9" y2="1423.5" stroke="#9A9A9A" stroke-width="1.3"/>
<line x1="535.6" y1="1417" x2="535.6" y2="1423.5" stroke="#9A9A9A" stroke-width="1.3"/>
<line x1="737.6" y1="1417" x2="737.6" y2="1423.5" stroke="#9A9A9A" stroke-width="1.3"/>
<text x="101" y="1447.23" font-size="27.54" font-weight="normal" textLength="53.6" lengthAdjust="spacingAndGlyphs" fill="#000">0.00</text>
<text x="302.54" y="1447.23" font-size="27.54" font-weight="normal" textLength="53.6" lengthAdjust="spacingAndGlyphs" fill="#000">0.05</text>
<text x="504.59" y="1447.23" font-size="27.54" font-weight="normal" textLength="38.29" lengthAdjust="spacingAndGlyphs" fill="#000">0.1</text>
<text x="706.84" y="1447.23" font-size="27.54" font-weight="normal" textLength="53.6" lengthAdjust="spacingAndGlyphs" fill="#000">0.15</text>
<text transform="translate(87.2,1092.26) rotate(-90)" x="-1.23" y="0" font-size="30.37" font-weight="normal" textLength="43.9" lengthAdjust="spacingAndGlyphs">0.1</text>
<text transform="translate(87.2,1223.36) rotate(-90)" x="-1.23" y="0" font-size="30.37" font-weight="normal" textLength="43.9" lengthAdjust="spacingAndGlyphs">0.1</text>
<text transform="translate(87.2,1375.86) rotate(-90)" x="-1.23" y="0" font-size="30.37" font-weight="normal" textLength="43.9" lengthAdjust="spacingAndGlyphs">0.1</text>
<text x="104.39" y="1015.1" font-size="30.23" font-weight="bold" textLength="19.02" lengthAdjust="spacingAndGlyphs" fill="#000">E</text>
<g transform="translate(534.8,1053.7)">
<path d="M31.5,0 C31.5,0 36.6,6.4 39,9.7 C41.4,12.9 44.3,16.2 45.9,19.5 C47.3,22.4 47,26.3 48.5,28.5 C49.6,30.2 51.6,30.7 53,32 C54.4,33.3 55.7,34.6 56.8,36.5 C58.2,39 59.5,42.7 60.2,45.9 C60.9,48.9 61.2,51.9 61.1,55 C61,58.4 61.3,62.9 59.6,65.4 C58.1,67.7 55.1,69 52.2,70 C48.9,71.1 44.5,71.5 40.7,71.1 C36.9,70.7 32.4,69.4 29.3,67.7 C26.7,66.2 25,64.1 22.9,62 C20.7,59.8 19.1,57.3 16.6,55 C13.7,52.3 9,50 6.3,47 C3.8,44.2 1.6,41 0.6,37.8 C-0.3,34.7 -0.3,31.1 0.3,28.1 C0.9,25.2 2.1,22.3 4,20.1 C6,17.8 9.5,16.7 12,14.9 C14.4,13.1 16.6,11.2 18.9,9.2 C21.2,7.2 25.8,2.9 25.8,2.9 Z" fill="#8C8B82"/>
<path d="M0.3,28.1 L4,20.1 L12,14.9 L7,24 L5,32 L8,41 L14,48 L21.2,53.9 L22.9,62 L16.6,55 L6.3,47 L0.6,37.8 Z" fill="#4C5150"/>
<path d="M24,5 L31.5,0.5 L39,9.7 L45.9,19.5 L46,30 L35,9.7 Z" fill="#BDBDB8"/>
<path d="M7,25.2 C7,25.2 11.9,17.2 15,14 C18,10.9 21.7,7.4 25,6 C27.7,4.9 30.6,4.1 33,5 C35.7,6 38.1,10.1 40,13 C41.9,15.8 43.6,18.9 44.5,22 C45.4,24.9 46.6,28.5 45.5,31 C44.2,33.9 38.1,35.1 36,37.8 C34.2,40.2 35.1,44.2 33,45.9 C30.6,47.9 25,48.5 21.2,48 C17.4,47.5 12.8,45.6 10.3,43 C8.1,40.7 6.5,33.8 6.5,33.8 Z" fill="#D4D6D7"/>
<path d="M14,28 C18,22 24,18 30,20 C34,24 36,30 30,36 C24,40 16,38 14,28 Z" fill="#E4E6E6"/>
<path d="M36,8 L41,14 L45,24 L45.5,31 L40,30 L38,20 Z" fill="#A9A89E"/>
<path d="M26.4,65.4 L40.7,67.1 L52.2,66 L59.6,61.9 L59.6,66.5 L52.2,70.5 L39.6,71.1 L29.3,68.8 Z" fill="#A8963E"/>
<path d="M35,44.1 C35,44.1 40.8,41.1 43.6,41.3 C46.5,41.6 49.7,43.8 52.2,45.9 C54.7,48 57.6,51 58.5,53.9 C59.3,56.6 59.4,60.6 57.9,62.5 C56.4,64.5 52.2,65 49.3,65.4 C46.5,65.8 42.4,66.3 40.7,64.8 C39,63.4 39.8,59.4 39,56.8 C38.2,54.2 36.1,49.3 36.1,49.3 Z" fill="#0D0D0D"/>
<path d="M35,44 C40,40 48,41 55,47 L52,45 C46,42 40,43 36,46 Z" fill="#B9AA4E"/>
<path d="M26,50 C31,49 35,54 37,62 L31,65 C28,60 26,55 26,50 Z" fill="#C4C4BD"/>
</g>
<text x="627.49" y="1104.4" font-size="40.99" font-weight="normal" textLength="61.87" lengthAdjust="spacingAndGlyphs" fill="#000">LiB</text>
<rect x="1001.7" y="1024.5" width="206.9" height="392.5" fill="#FFFCCB"/>
<line x1="1001.7" y1="1024.5" x2="1001.7" y2="1417" stroke="#555" stroke-width="1.1"/>
<line x1="1208.6" y1="1024.5" x2="1208.6" y2="1417" stroke="#555" stroke-width="1.1"/>
<path d="M832.4,1041.2 L854.9,1044.2 L874.9,1046.2 L909.8,1048.7 L972.2,1051.7 L1002.2,1053.7 L1009.7,1054.4 L1064.6,1056.7 L1110,1057.7 L1208.6,1060.2 L1250.6,1062.7 L1335.9,1067.2 L1423.8,1071.5 L1423.8,1400.8 L1423.8,1400.8 L1300.8,1397.3 L1250.6,1389 L1225.5,1385.2 L1208.6,1379 L1192.8,1371.4 L1152.7,1368.4 L1125.1,1365.2 L1110,1356.4 L1097.1,1350.1 L1084.6,1345.8 L1070.9,1317.6 L1057.1,1314.6 L1044.6,1282.2 L1029.7,1236 L1002.2,1213.5 L984.7,1198.5 L969.7,1172.3 L952.3,1154.3 L929.8,1142.3 L912.3,1132.8 L897.3,1129.1 L874.9,1125.4 L859.9,1122.6 L847.4,1124.4 L832.4,1129.1 Z" fill="#BEBEBE"/>
<path d="M832.4,1041.2 L854.9,1044.2 L874.9,1046.2 L909.8,1048.7 L972.2,1051.7 L1002.2,1053.7 L1009.7,1054.4 L1064.6,1056.7 L1110,1057.7 L1208.6,1060.2 L1250.6,1062.7 L1335.9,1067.2 L1423.8,1071.5" fill="none" stroke="#3A3A3A" stroke-width="1.1"/>
<path d="M832.4,1129.1 L847.4,1124.4 L859.9,1122.6 L874.9,1125.4 L897.3,1129.1 L912.3,1132.8 L929.8,1142.3 L952.3,1154.3 L969.7,1172.3 L984.7,1198.5 L1002.2,1213.5 L1029.7,1236 L1044.6,1282.2 L1057.1,1314.6 L1070.9,1317.6 L1084.6,1345.8 L1097.1,1350.1 L1110,1356.4 L1125.1,1365.2 L1152.7,1368.4 L1192.8,1371.4 L1208.6,1379 L1225.5,1385.2 L1250.6,1389 L1300.8,1397.3 L1423.8,1400.8" fill="none" stroke="#3A3A3A" stroke-width="1.1"/>
<path d="M832.4,1075.7 C832.4,1075.7 849.3,1078.8 859.9,1079.9 C874,1081.3 893.2,1081.5 909.8,1082.4 C926.5,1083.3 943.8,1084.3 959.8,1085.4 C974.5,1086.4 989,1087.4 1002.2,1088.7 C1013.8,1089.8 1024.6,1090.8 1034.7,1092.4 C1043.6,1093.8 1051.3,1095.8 1059.6,1097.4 C1067.9,1099 1076.2,1100.8 1084.6,1101.9 C1093,1103 1098.8,1102.6 1110,1104.1 C1132.4,1107 1179.3,1116.1 1210.4,1121.7 C1237.3,1126.5 1260.5,1131.9 1285.7,1135.5 C1310.7,1139 1337,1140.8 1361,1143 C1382.9,1145 1423.8,1148.1 1423.8,1148.1" fill="none" stroke="#1E1E1E" stroke-width="1.8" stroke-dasharray="5.2,4.9"/>
<rect x="809.2" y="1024.5" width="638.4" height="392.5" fill="none" stroke="#8A8A8A" stroke-width="1.4"/>
<line x1="809.2" y1="1107.4" x2="809.2" y2="1382" stroke="#3C3C3C" stroke-width="1.4"/>
<line x1="802.7" y1="1107.4" x2="809.2" y2="1107.4" stroke="#5A5A5A" stroke-width="1.3"/>
<line x1="802.7" y1="1245.2" x2="809.2" y2="1245.2" stroke="#5A5A5A" stroke-width="1.3"/>
<line x1="802.7" y1="1382" x2="809.2" y2="1382" stroke="#5A5A5A" stroke-width="1.3"/>
<line x1="832.4" y1="1417" x2="1338.4" y2="1417" stroke="#767676" stroke-width="1.4"/>
<line x1="832.4" y1="1417" x2="832.4" y2="1423.5" stroke="#9A9A9A" stroke-width="1.3"/>
<line x1="1001.4" y1="1417" x2="1001.4" y2="1423.5" stroke="#9A9A9A" stroke-width="1.3"/>
<line x1="1170.2" y1="1417" x2="1170.2" y2="1423.5" stroke="#9A9A9A" stroke-width="1.3"/>
<line x1="1338.4" y1="1417" x2="1338.4" y2="1423.5" stroke="#9A9A9A" stroke-width="1.3"/>
<text x="802.94" y="1447.23" font-size="27.54" font-weight="normal" textLength="68.92" lengthAdjust="spacingAndGlyphs" fill="#000">0.000</text>
<text x="971.98" y="1447.23" font-size="27.54" font-weight="normal" textLength="68.92" lengthAdjust="spacingAndGlyphs" fill="#000">0.005</text>
<text x="1140.53" y="1447.23" font-size="27.54" font-weight="normal" textLength="53.6" lengthAdjust="spacingAndGlyphs" fill="#000">0.01</text>
<text x="1308.98" y="1447.23" font-size="27.54" font-weight="normal" textLength="68.92" lengthAdjust="spacingAndGlyphs" fill="#000">0.015</text>
<text transform="translate(791.21,1146.36) rotate(-90)" x="-2.44" y="0" font-size="29.66" font-weight="normal" textLength="81.93" lengthAdjust="spacingAndGlyphs">1e-01</text>
<text transform="translate(791.21,1284.48) rotate(-90)" x="-2.44" y="0" font-size="29.66" font-weight="normal" textLength="81.93" lengthAdjust="spacingAndGlyphs">1e-04</text>
<text transform="translate(791.21,1420.94) rotate(-90)" x="-2.44" y="0" font-size="29.66" font-weight="normal" textLength="81.93" lengthAdjust="spacingAndGlyphs">1e-07</text>
<text x="808.97" y="1012.4" font-size="30.23" font-weight="bold" textLength="17.58" lengthAdjust="spacingAndGlyphs" fill="#000">F</text>
<g transform="translate(1245.5,1042.6)">
<path d="M31.5,0 C31.5,0 36.6,6.4 39,9.7 C41.4,12.9 44.3,16.2 45.9,19.5 C47.3,22.4 47,26.3 48.5,28.5 C49.6,30.2 51.6,30.7 53,32 C54.4,33.3 55.7,34.6 56.8,36.5 C58.2,39 59.5,42.7 60.2,45.9 C60.9,48.9 61.2,51.9 61.1,55 C61,58.4 61.3,62.9 59.6,65.4 C58.1,67.7 55.1,69 52.2,70 C48.9,71.1 44.5,71.5 40.7,71.1 C36.9,70.7 32.4,69.4 29.3,67.7 C26.7,66.2 25,64.1 22.9,62 C20.7,59.8 19.1,57.3 16.6,55 C13.7,52.3 9,50 6.3,47 C3.8,44.2 1.6,41 0.6,37.8 C-0.3,34.7 -0.3,31.1 0.3,28.1 C0.9,25.2 2.1,22.3 4,20.1 C6,17.8 9.5,16.7 12,14.9 C14.4,13.1 16.6,11.2 18.9,9.2 C21.2,7.2 25.8,2.9 25.8,2.9 Z" fill="#8C8B82"/>
<path d="M0.3,28.1 L4,20.1 L12,14.9 L7,24 L5,32 L8,41 L14,48 L21.2,53.9 L22.9,62 L16.6,55 L6.3,47 L0.6,37.8 Z" fill="#4C5150"/>
<path d="M24,5 L31.5,0.5 L39,9.7 L45.9,19.5 L46,30 L35,9.7 Z" fill="#BDBDB8"/>
<path d="M7,25.2 C7,25.2 11.9,17.2 15,14 C18,10.9 21.7,7.4 25,6 C27.7,4.9 30.6,4.1 33,5 C35.7,6 38.1,10.1 40,13 C41.9,15.8 43.6,18.9 44.5,22 C45.4,24.9 46.6,28.5 45.5,31 C44.2,33.9 38.1,35.1 36,37.8 C34.2,40.2 35.1,44.2 33,45.9 C30.6,47.9 25,48.5 21.2,48 C17.4,47.5 12.8,45.6 10.3,43 C8.1,40.7 6.5,33.8 6.5,33.8 Z" fill="#D4D6D7"/>
<path d="M14,28 C18,22 24,18 30,20 C34,24 36,30 30,36 C24,40 16,38 14,28 Z" fill="#E4E6E6"/>
<path d="M36,8 L41,14 L45,24 L45.5,31 L40,30 L38,20 Z" fill="#A9A89E"/>
<path d="M26.4,65.4 L40.7,67.1 L52.2,66 L59.6,61.9 L59.6,66.5 L52.2,70.5 L39.6,71.1 L29.3,68.8 Z" fill="#A8963E"/>
<path d="M35,44.1 C35,44.1 40.8,41.1 43.6,41.3 C46.5,41.6 49.7,43.8 52.2,45.9 C54.7,48 57.6,51 58.5,53.9 C59.3,56.6 59.4,60.6 57.9,62.5 C56.4,64.5 52.2,65 49.3,65.4 C46.5,65.8 42.4,66.3 40.7,64.8 C39,63.4 39.8,59.4 39,56.8 C38.2,54.2 36.1,49.3 36.1,49.3 Z" fill="#0D0D0D"/>
<path d="M35,44 C40,40 48,41 55,47 L52,45 C46,42 40,43 36,46 Z" fill="#B9AA4E"/>
<path d="M26,50 C31,49 35,54 37,62 L31,65 C28,60 26,55 26,50 Z" fill="#C4C4BD"/>
</g>
<text x="1350.07" y="1104.9" font-size="42.3" font-weight="normal" textLength="62.72" lengthAdjust="spacingAndGlyphs" fill="#000">LiC</text>
<rect x="167.4" y="1510" width="21.9" height="392.5" fill="url(#dots)"/>
<rect x="189.3" y="1510" width="45.5" height="392.5" fill="#FFFCCB"/>
<rect x="189.3" y="1510" width="45.5" height="392.5" fill="url(#dots)"/>
<rect x="234.8" y="1510" width="47.4" height="392.5" fill="#FFFCCB"/>
<line x1="167.4" y1="1510" x2="167.4" y2="1902.5" stroke="#555" stroke-width="1.1"/>
<line x1="189.3" y1="1510" x2="189.3" y2="1902.5" stroke="#555" stroke-width="1.1"/>
<line x1="189.3" y1="1510" x2="189.3" y2="1902.5" stroke="#555" stroke-width="1.1"/>
<line x1="234.8" y1="1510" x2="234.8" y2="1902.5" stroke="#555" stroke-width="1.1"/>
<line x1="234.8" y1="1510" x2="234.8" y2="1902.5" stroke="#555" stroke-width="1.1"/>
<line x1="282.2" y1="1510" x2="282.2" y2="1902.5" stroke="#555" stroke-width="1.1"/>
<path d="M131.1,1529.5 C131.1,1529.5 156.8,1536.7 167.4,1540 C175.8,1542.6 181.1,1544.2 189.8,1547.4 C202.3,1552.1 219.7,1559.5 234.8,1566.2 C250.5,1573.2 269.5,1581.7 282.2,1588.6 C291.2,1593.5 297.5,1597.7 304.7,1602.4 C311.6,1606.9 317.8,1611 324.7,1616.1 C332.7,1622 341.4,1629 349.6,1636.1 C358.1,1643.5 366.8,1652.2 374.6,1659.8 C381.7,1666.7 389.1,1671.3 394.6,1679.8 C401.4,1690.3 405.8,1708.7 410,1719.7 C413,1727.5 415.1,1731.6 417.5,1739.7 C421,1751.6 422.2,1776.3 427.5,1784.6 C430.3,1788.9 433.1,1790.1 437.5,1792.1 C443.7,1794.9 449.6,1795.8 462.4,1797.1 C503.4,1801.2 723.8,1797.6 723.8,1797.6 L723.8,1882.5 L723.8,1882.5 C723.8,1882.5 495.2,1883.3 449.9,1882.5 C434.9,1882.2 430.2,1882 420,1881.5 C409.3,1881 397.1,1881.8 387.1,1879.5 C378,1877.5 369.6,1873.1 362.1,1869.5 C355.6,1866.4 350.3,1863.3 344.6,1859.6 C338.7,1855.8 331.6,1852.3 327.2,1847.1 C323,1842.2 320.5,1837.3 318.4,1829.6 C314.9,1816.6 316.6,1793 314.7,1774.7 C312.8,1756.3 310.9,1736.4 307.2,1719.7 C304,1705.2 299.6,1690.8 294.7,1679.8 C291,1671.4 286.5,1665.4 282.2,1658.6 C278.1,1652.1 274.4,1645.5 269.7,1639.8 C265.2,1634.3 260.4,1629.3 254.8,1624.8 C248.9,1620.1 243,1616.6 234.8,1612.4 C223,1606.4 202.3,1598.8 189.8,1594.4 C181.1,1591.3 175.8,1589.8 167.4,1587.4 C156.8,1584.4 131.1,1578.2 131.1,1578.2 Z" fill="#BEBEBE"/>
<path d="M131.1,1529.5 C131.1,1529.5 156.8,1536.7 167.4,1540 C175.8,1542.6 181.1,1544.2 189.8,1547.4 C202.3,1552.1 219.7,1559.5 234.8,1566.2 C250.5,1573.2 269.5,1581.7 282.2,1588.6 C291.2,1593.5 297.5,1597.7 304.7,1602.4 C311.6,1606.9 317.8,1611 324.7,1616.1 C332.7,1622 341.4,1629 349.6,1636.1 C358.1,1643.5 366.8,1652.2 374.6,1659.8 C381.7,1666.7 389.1,1671.3 394.6,1679.8 C401.4,1690.3 405.8,1708.7 410,1719.7 C413,1727.5 415.1,1731.6 417.5,1739.7 C421,1751.6 422.2,1776.3 427.5,1784.6 C430.3,1788.9 433.1,1790.1 437.5,1792.1 C443.7,1794.9 449.6,1795.8 462.4,1797.1 C503.4,1801.2 723.8,1797.6 723.8,1797.6" fill="none" stroke="#3A3A3A" stroke-width="1.1"/>
<path d="M131.1,1578.2 C131.1,1578.2 156.8,1584.4 167.4,1587.4 C175.8,1589.8 181.1,1591.3 189.8,1594.4 C202.3,1598.8 223,1606.4 234.8,1612.4 C243,1616.6 248.9,1620.1 254.8,1624.8 C260.4,1629.3 265.2,1634.3 269.7,1639.8 C274.4,1645.5 278.1,1652.1 282.2,1658.6 C286.5,1665.4 291,1671.4 294.7,1679.8 C299.6,1690.8 304,1705.2 307.2,1719.7 C310.9,1736.4 312.8,1756.3 314.7,1774.7 C316.6,1793 314.9,1816.6 318.4,1829.6 C320.5,1837.3 323,1842.2 327.2,1847.1 C331.6,1852.3 338.7,1855.8 344.6,1859.6 C350.3,1863.3 355.6,1866.4 362.1,1869.5 C369.6,1873.1 378,1877.5 387.1,1879.5 C397.1,1881.8 409.3,1881 420,1881.5 C430.2,1882 434.9,1882.2 449.9,1882.5 C495.2,1883.3 723.8,1882.5 723.8,1882.5" fill="none" stroke="#3A3A3A" stroke-width="1.1"/>
<path d="M131.1,1554.9 C131.1,1554.9 153.6,1561.7 164.9,1565.4 C176.5,1569.2 187.9,1573.6 199.8,1577.4 C212,1581.3 225.1,1583.4 237.3,1588.6 C250.1,1594.1 263.6,1602.9 274.7,1609.9 C284,1615.8 291.7,1620.6 299.7,1627.3 C308.4,1634.6 317.7,1642.6 324.7,1652.3 C332,1662.5 337.3,1674.3 342.1,1687.3 C347.6,1702.2 351.7,1720.5 354.6,1737.2 C357.5,1753.7 357.1,1772.7 359.6,1787.1 C361.6,1798.4 362.3,1810.3 367.1,1817.1 C370.8,1822.3 376.4,1824.5 382.1,1827.1 C388.6,1830.1 397.2,1832.2 404.6,1833.3 C411.5,1834.4 414.2,1833.9 425,1834.1 C466.3,1834.9 723.8,1834.6 723.8,1834.6" fill="none" stroke="#1E1E1E" stroke-width="1.8" stroke-dasharray="5.2,4.9"/>
<rect x="111.7" y="1510" width="639.9" height="392.5" fill="none" stroke="#8A8A8A" stroke-width="1.4"/>
<line x1="111.7" y1="1512.5" x2="111.7" y2="1895" stroke="#3C3C3C" stroke-width="1.4"/>
<line x1="105.2" y1="1512.5" x2="111.7" y2="1512.5" stroke="#5A5A5A" stroke-width="1.3"/>
<line x1="105.2" y1="1640.3" x2="111.7" y2="1640.3" stroke="#5A5A5A" stroke-width="1.3"/>
<line x1="105.2" y1="1767.7" x2="111.7" y2="1767.7" stroke="#5A5A5A" stroke-width="1.3"/>
<line x1="105.2" y1="1895" x2="111.7" y2="1895" stroke="#5A5A5A" stroke-width="1.3"/>
<line x1="105.2" y1="1551.2" x2="111.7" y2="1551.2" stroke="#5A5A5A" stroke-width="1.3"/>
<line x1="105.2" y1="1589.4" x2="111.7" y2="1589.4" stroke="#5A5A5A" stroke-width="1.3"/>
<line x1="105.2" y1="1678.5" x2="111.7" y2="1678.5" stroke="#5A5A5A" stroke-width="1.3"/>
<line x1="105.2" y1="1716.7" x2="111.7" y2="1716.7" stroke="#5A5A5A" stroke-width="1.3"/>
<line x1="105.2" y1="1805.9" x2="111.7" y2="1805.9" stroke="#5A5A5A" stroke-width="1.3"/>
<line x1="105.2" y1="1844.1" x2="111.7" y2="1844.1" stroke="#5A5A5A" stroke-width="1.3"/>
<line x1="135.4" y1="1902.5" x2="740.8" y2="1902.5" stroke="#767676" stroke-width="1.4"/>
<line x1="135.4" y1="1902.5" x2="135.4" y2="1909" stroke="#9A9A9A" stroke-width="1.3"/>
<line x1="256.2" y1="1902.5" x2="256.2" y2="1909" stroke="#9A9A9A" stroke-width="1.3"/>
<line x1="377.1" y1="1902.5" x2="377.1" y2="1909" stroke="#9A9A9A" stroke-width="1.3"/>
<line x1="498.6" y1="1902.5" x2="498.6" y2="1909" stroke="#9A9A9A" stroke-width="1.3"/>
<line x1="619.7" y1="1902.5" x2="619.7" y2="1909" stroke="#9A9A9A" stroke-width="1.3"/>
<line x1="740.8" y1="1902.5" x2="740.8" y2="1909" stroke="#9A9A9A" stroke-width="1.3"/>
<text x="100.9" y="1936.23" font-size="27.54" font-weight="normal" textLength="53.6" lengthAdjust="spacingAndGlyphs" fill="#000">0.00</text>
<text x="221.83" y="1936.23" font-size="27.54" font-weight="normal" textLength="53.6" lengthAdjust="spacingAndGlyphs" fill="#000">0.01</text>
<text x="342.75" y="1936.23" font-size="27.54" font-weight="normal" textLength="53.6" lengthAdjust="spacingAndGlyphs" fill="#000">0.02</text>
<text x="464.16" y="1936.23" font-size="27.54" font-weight="normal" textLength="53.6" lengthAdjust="spacingAndGlyphs" fill="#000">0.03</text>
<text x="585.06" y="1936.23" font-size="27.54" font-weight="normal" textLength="53.6" lengthAdjust="spacingAndGlyphs" fill="#000">0.04</text>
<text x="706.34" y="1936.23" font-size="27.54" font-weight="normal" textLength="53.6" lengthAdjust="spacingAndGlyphs" fill="#000">0.05</text>
<text transform="translate(87.2,1528.03) rotate(-90)" x="-1.53" y="0" font-size="30.37" font-weight="normal" textLength="33.78" lengthAdjust="spacingAndGlyphs">20</text>
<text transform="translate(87.5,1643.81) rotate(-90)" x="-1.55" y="0" font-size="30.79" font-weight="normal" textLength="17.12" lengthAdjust="spacingAndGlyphs">2</text>
<text transform="translate(87.2,1787.45) rotate(-90)" x="-1.19" y="0" font-size="30.37" font-weight="normal" textLength="42.21" lengthAdjust="spacingAndGlyphs">0.2</text>
<text transform="translate(87.2,1923.19) rotate(-90)" x="-1.19" y="0" font-size="30.37" font-weight="normal" textLength="59.1" lengthAdjust="spacingAndGlyphs">0.02</text>
<text x="104.3" y="1500.8" font-size="30.67" font-weight="bold" textLength="22.71" lengthAdjust="spacingAndGlyphs" fill="#000">G</text>
<g transform="translate(528.9,1520.1)">
<path d="M0,37.7 L-0,34.2 L1.4,30.9 L1.6,27.4 L2.8,24.1 L3.2,20.7 L5.9,18.7 L7.3,15.3 L9.7,12.9 L13.6,12.2 L15.4,9.3 L17.1,7.9 L19,7.1 L21.7,8.1 L23.1,6 L25.1,5.3 L27.7,5 L29.6,3.1 L32,2.4 L33.8,0.2 L36.4,0 L38.5,1.8 L40.4,3.9 L43.2,4.7 L45.2,6.7 L47.8,7.7 L50.1,9.1 L53.1,8.6 L54.8,11.3 L57.4,11.8 L59.9,12.6 L60.7,14.1 L61.7,15.6 L59.9,17.6 L61.2,19.1 L61.5,20.7 L64.2,20.6 L66.9,20.3 L69.4,19.3 L72.2,19.1 L74.5,17.4 L76.6,19.1 L77.8,21.8 L80.4,23.1 L81.5,26 L84.2,27.1 L85.9,29 L88.8,28.1 L90.9,29.2 L92.9,30.4 L94.7,32 L95,34.7 L97.4,36.1 L98.3,38.5 L100.3,40.1 L101.2,42.5 L101.3,46.6 L101.8,50.6 L102.1,54.7 L101.6,58.7 L102,62.8 L100.7,64.6 L98.8,66.2 L98.2,68.4 L96.6,70 L96.4,72.5 L92.8,73.1 L89.4,74.3 L86.5,76.5 L83.8,79.1 L80.2,79.8 L76.3,78.4 L72.2,77.6 L68.1,77.3 L64,77.6 L59.9,77.3 L57.5,76.7 L55.1,78.1 L52.6,76.4 L50.2,77.1 L47.8,77.3 L45.7,75 L43.6,72.7 L43.7,69.1 L42.4,66.3 L39.7,64.4 L39.6,66.3 L37.1,66.5 L36.9,68.4 L36.5,70.1 L34.8,70.9 L34.1,71.9 L32.6,71.2 L31.5,71.5 L31.5,73.9 L30,73.3 L28.6,71.8 L26,71.6 L25.5,69 L23.2,68.4 L21.9,66.8 L20.2,64.5 L18,62.8 L15.1,62.4 L13.5,59.9 L10.5,59.5 L8.5,57.2 L6.3,54.9 L5.9,51.6 L3,49.8 L2.4,46.6 L1.2,45 L1.2,43.1 L1.2,41.2 L-0.4,39.7 Z" fill="#C2BFA3"/>
<path d="M0,37.7 L3.2,20.7 L15.4,9.3 L25.1,5.3 L26,9 L17,14 L9,22 L6,32 L4,44 L2.4,46.6 Z" fill="#7C785C"/>
<path d="M18,13 L36.4,0 L47.8,7.7 L52,16 L44,28 L32,24 L22,22 Z" fill="#D9D8CE"/>
<path d="M46,24 L54,18 L60,22 L58,38 L55,58 L50,72 L44,64 L48,45 Z" fill="#D3D5DA"/>
<path d="M70,22 L74.5,17.4 L84.2,27.1 L94.7,32 L101.2,42.5 L102,62.8 L96.4,72.5 L80.2,79.8 L72,74 L78,60 L82,42 Z" fill="#CDCFD8"/>
<path d="M60,68 L72,70 L80.2,79.8 L62,77 Z" fill="#A9A796"/>
<path d="M10.5,59.5 L21.9,66.8 L30,73.3 L34.8,70.9 L30,64 L18,58 Z" fill="#8F8C70"/>
<path d="M5,46 L14,52 L12,40 L8,36 Z" fill="#D8D8CC"/>
<rect x="14" y="30" width="24" height="22.5" rx="8" transform="rotate(28 26 41)" fill="#A7A27D" stroke="#666038" stroke-width="2.2"/>
<path d="M19,45 L30,37 L34,46 L24,49 Z" fill="#CFCBB0"/>
<rect x="50.5" y="34" width="28.5" height="27" rx="9" transform="rotate(-8 64.8 47.4)" fill="#9E9874" stroke="#5E5836" stroke-width="2.2"/>
<ellipse cx="66" cy="49" rx="9" ry="8" fill="#ABA581"/>
<circle cx="58" cy="25" r="1.6" fill="#4A3A2A"/><circle cx="97" cy="35" r="1.5" fill="#5A2A20"/>
</g>
<text x="629.85" y="1577.9" font-size="41.72" font-weight="normal" textLength="76.83" lengthAdjust="spacingAndGlyphs" fill="#000">SeA</text>
<rect x="853.6" y="1509.8" width="6.3" height="395" fill="url(#dots)"/>
<rect x="859.9" y="1509.8" width="22.4" height="395" fill="#FFFCCB"/>
<rect x="859.9" y="1509.8" width="22.4" height="395" fill="url(#dots)"/>
<rect x="882.3" y="1509.8" width="16.3" height="395" fill="#FFFCCB"/>
<line x1="853.6" y1="1509.8" x2="853.6" y2="1904.8" stroke="#555" stroke-width="1.1"/>
<line x1="859.9" y1="1509.8" x2="859.9" y2="1904.8" stroke="#555" stroke-width="1.1"/>
<line x1="859.9" y1="1509.8" x2="859.9" y2="1904.8" stroke="#555" stroke-width="1.1"/>
<line x1="882.3" y1="1509.8" x2="882.3" y2="1904.8" stroke="#555" stroke-width="1.1"/>
<line x1="882.3" y1="1509.8" x2="882.3" y2="1904.8" stroke="#555" stroke-width="1.1"/>
<line x1="898.6" y1="1509.8" x2="898.6" y2="1904.8" stroke="#555" stroke-width="1.1"/>
<path d="M832.9,1526.2 C832.9,1526.2 851.4,1529.2 859.9,1531.2 C867.8,1533 875.4,1535.5 882.3,1537.5 C888.2,1539.2 892.7,1540.4 898.6,1542.4 C905.8,1544.8 913.8,1547.8 922.3,1551.2 C932.3,1555.2 944.4,1559.7 954.8,1564.9 C965.2,1570.1 976.6,1576.7 984.7,1582.4 C990.8,1586.7 994.9,1590.5 999.7,1594.9 C1004.5,1599.3 1008.4,1606 1013.4,1608.6 C1017.7,1610.8 1022.2,1610.8 1027.2,1611.1 C1033.2,1611.5 1039.8,1610.8 1047.1,1609.9 C1056.1,1608.8 1066.9,1605.6 1077.1,1604.4 C1087.7,1603.2 1098.9,1603.1 1109.6,1602.9 C1119.9,1602.7 1129.8,1602.9 1140.1,1603.4 C1150.8,1603.9 1162.1,1604.8 1172.8,1605.9 C1183.1,1607 1193.9,1608.1 1202.9,1609.9 C1210.3,1611.4 1215.8,1613.4 1223,1615.5 C1231.5,1618 1241.4,1621.6 1250.6,1624.2 C1259.8,1626.8 1268.6,1629.5 1278.2,1631 C1288.5,1632.7 1296.6,1632.9 1310.8,1633.5 C1337.8,1634.7 1428.3,1634.8 1428.3,1634.8 L1428.3,1888.3 L1428.3,1888.3 L1351,1888.3 L1309.5,1879 L1278.2,1835.1 L1254.3,1732.2 L1233,1699.5 L1215.4,1688.3 L1215.4,1688.3 C1215.4,1688.3 1198,1680.7 1187.8,1678.2 C1175.8,1675.3 1160.9,1674.2 1147.7,1673.2 C1135,1672.2 1123.9,1672.1 1110,1671.9 C1092.8,1671.7 1065.8,1672.8 1052.1,1672.3 C1044.6,1672 1040.1,1672.7 1034.7,1671 C1029.3,1669.3 1025.4,1664.5 1019.7,1662.3 C1013.1,1659.7 1004.5,1658.9 997.2,1657.3 C990.3,1655.8 983,1656 977.2,1652.8 C971.3,1649.5 966.1,1642.6 962.2,1637.3 C958.9,1632.8 958.2,1627.9 954.8,1623.6 C951,1618.7 943.8,1615.9 939.8,1609.9 C935,1602.7 934.5,1589.8 929.8,1582.4 C925.8,1576.1 920.3,1571.2 914.8,1567.4 C909.8,1563.9 905.3,1562.2 898.6,1559.9 C888.6,1556.5 871.7,1553.5 859.9,1551.2 C850.1,1549.3 832.9,1546.9 832.9,1546.9 Z" fill="#BEBEBE"/>
<path d="M832.9,1526.2 C832.9,1526.2 851.4,1529.2 859.9,1531.2 C867.8,1533 875.4,1535.5 882.3,1537.5 C888.2,1539.2 892.7,1540.4 898.6,1542.4 C905.8,1544.8 913.8,1547.8 922.3,1551.2 C932.3,1555.2 944.4,1559.7 954.8,1564.9 C965.2,1570.1 976.6,1576.7 984.7,1582.4 C990.8,1586.7 994.9,1590.5 999.7,1594.9 C1004.5,1599.3 1008.4,1606 1013.4,1608.6 C1017.7,1610.8 1022.2,1610.8 1027.2,1611.1 C1033.2,1611.5 1039.8,1610.8 1047.1,1609.9 C1056.1,1608.8 1066.9,1605.6 1077.1,1604.4 C1087.7,1603.2 1098.9,1603.1 1109.6,1602.9 C1119.9,1602.7 1129.8,1602.9 1140.1,1603.4 C1150.8,1603.9 1162.1,1604.8 1172.8,1605.9 C1183.1,1607 1193.9,1608.1 1202.9,1609.9 C1210.3,1611.4 1215.8,1613.4 1223,1615.5 C1231.5,1618 1241.4,1621.6 1250.6,1624.2 C1259.8,1626.8 1268.6,1629.5 1278.2,1631 C1288.5,1632.7 1296.6,1632.9 1310.8,1633.5 C1337.8,1634.7 1428.3,1634.8 1428.3,1634.8" fill="none" stroke="#3A3A3A" stroke-width="1.1"/>
<path d="M832.9,1546.9 C832.9,1546.9 850.1,1549.3 859.9,1551.2 C871.7,1553.5 888.6,1556.5 898.6,1559.9 C905.3,1562.2 909.8,1563.9 914.8,1567.4 C920.3,1571.2 925.8,1576.1 929.8,1582.4 C934.5,1589.8 935,1602.7 939.8,1609.9 C943.8,1615.9 951,1618.7 954.8,1623.6 C958.2,1627.9 958.9,1632.8 962.2,1637.3 C966.1,1642.6 971.3,1649.5 977.2,1652.8 C983,1656 990.3,1655.8 997.2,1657.3 C1004.5,1658.9 1013.1,1659.7 1019.7,1662.3 C1025.4,1664.5 1029.3,1669.3 1034.7,1671 C1040.1,1672.7 1044.6,1672 1052.1,1672.3 C1065.8,1672.8 1092.8,1671.7 1110,1671.9 C1123.9,1672.1 1135,1672.2 1147.7,1673.2 C1160.9,1674.2 1175.8,1675.3 1187.8,1678.2 C1198,1680.7 1215.4,1688.3 1215.4,1688.3 L1233,1699.5 L1254.3,1732.2 L1278.2,1835.1 L1309.5,1879 L1351,1888.3 L1428.3,1888.3" fill="none" stroke="#3A3A3A" stroke-width="1.1"/>
<path d="M832.9,1536.7 C832.9,1536.7 850,1540.1 859.9,1542.4 C871.9,1545.2 887,1548.5 899.8,1552.4 C911.9,1556.1 925,1560.1 934.8,1564.9 C942.6,1568.7 949.3,1572.2 954.8,1577.4 C960,1582.3 963.3,1589.3 967.2,1594.9 C970.8,1600.1 972.2,1605.1 977.2,1609.9 C984.5,1616.9 999.3,1625.4 1009.7,1629.8 C1018.3,1633.4 1024.9,1634.5 1034.7,1636.1 C1048.4,1638.4 1070.7,1639.3 1084.6,1640.3 C1094.5,1641 1099.3,1641.1 1110,1641.8 C1128.4,1643 1160.2,1644.8 1185.3,1646.8 C1210.4,1648.8 1235.5,1652.1 1260.6,1653.9 C1285.7,1655.7 1309.5,1656.5 1335.9,1657.6 C1365.1,1658.8 1428.3,1660.6 1428.3,1660.6" fill="none" stroke="#1E1E1E" stroke-width="1.8" stroke-dasharray="5.2,4.9"/>
<rect x="809.2" y="1509.8" width="642.7" height="395" fill="none" stroke="#8A8A8A" stroke-width="1.4"/>
<line x1="809.2" y1="1561.2" x2="809.2" y2="1891.5" stroke="#3C3C3C" stroke-width="1.4"/>
<line x1="802.7" y1="1561.2" x2="809.2" y2="1561.2" stroke="#5A5A5A" stroke-width="1.3"/>
<line x1="802.7" y1="1671.5" x2="809.2" y2="1671.5" stroke="#5A5A5A" stroke-width="1.3"/>
<line x1="802.7" y1="1781.4" x2="809.2" y2="1781.4" stroke="#5A5A5A" stroke-width="1.3"/>
<line x1="802.7" y1="1891.5" x2="809.2" y2="1891.5" stroke="#5A5A5A" stroke-width="1.3"/>
<line x1="832.9" y1="1904.8" x2="1437.6" y2="1904.8" stroke="#767676" stroke-width="1.4"/>
<line x1="832.9" y1="1904.8" x2="832.9" y2="1911.3" stroke="#9A9A9A" stroke-width="1.3"/>
<line x1="953.5" y1="1904.8" x2="953.5" y2="1911.3" stroke="#9A9A9A" stroke-width="1.3"/>
<line x1="1074.1" y1="1904.8" x2="1074.1" y2="1911.3" stroke="#9A9A9A" stroke-width="1.3"/>
<line x1="1195.3" y1="1904.8" x2="1195.3" y2="1911.3" stroke="#9A9A9A" stroke-width="1.3"/>
<line x1="1316.3" y1="1904.8" x2="1316.3" y2="1911.3" stroke="#9A9A9A" stroke-width="1.3"/>
<line x1="1437.6" y1="1904.8" x2="1437.6" y2="1911.3" stroke="#9A9A9A" stroke-width="1.3"/>
<text x="802.1" y="1936.23" font-size="27.54" font-weight="normal" textLength="53.6" lengthAdjust="spacingAndGlyphs" fill="#000">0.00</text>
<text x="922.85" y="1936.23" font-size="27.54" font-weight="normal" textLength="53.6" lengthAdjust="spacingAndGlyphs" fill="#000">0.02</text>
<text x="1043.16" y="1936.23" font-size="27.54" font-weight="normal" textLength="53.6" lengthAdjust="spacingAndGlyphs" fill="#000">0.04</text>
<text x="1164.56" y="1936.23" font-size="27.54" font-weight="normal" textLength="53.6" lengthAdjust="spacingAndGlyphs" fill="#000">0.06</text>
<text x="1285.56" y="1936.23" font-size="27.54" font-weight="normal" textLength="53.6" lengthAdjust="spacingAndGlyphs" fill="#000">0.08</text>
<text x="1406.39" y="1936.23" font-size="27.54" font-weight="normal" textLength="38.29" lengthAdjust="spacingAndGlyphs" fill="#000">0.1</text>
<text transform="translate(791.21,1601) rotate(-90)" x="-2.26" y="0" font-size="29.66" font-weight="normal" textLength="83.3" lengthAdjust="spacingAndGlyphs">1e+01</text>
<text transform="translate(791.21,1707.58) rotate(-90)" x="-2.26" y="0" font-size="29.66" font-weight="normal" textLength="75.86" lengthAdjust="spacingAndGlyphs">1e-01</text>
<text transform="translate(791.21,1817.55) rotate(-90)" x="-2.26" y="0" font-size="29.66" font-weight="normal" textLength="75.86" lengthAdjust="spacingAndGlyphs">1e-03</text>
<text transform="translate(791.21,1927.68) rotate(-90)" x="-2.26" y="0" font-size="29.66" font-weight="normal" textLength="75.86" lengthAdjust="spacingAndGlyphs">1e-05</text>
<text x="808.87" y="1500.9" font-size="30.67" font-weight="bold" textLength="21.87" lengthAdjust="spacingAndGlyphs" fill="#000">H</text>
<g transform="translate(1238,1526.4)">
<path d="M0,37.7 L-0,34.2 L1.4,30.9 L1.6,27.4 L2.8,24.1 L3.2,20.7 L5.9,18.7 L7.3,15.3 L9.7,12.9 L13.6,12.2 L15.4,9.3 L17.1,7.9 L19,7.1 L21.7,8.1 L23.1,6 L25.1,5.3 L27.7,5 L29.6,3.1 L32,2.4 L33.8,0.2 L36.4,0 L38.5,1.8 L40.4,3.9 L43.2,4.7 L45.2,6.7 L47.8,7.7 L50.1,9.1 L53.1,8.6 L54.8,11.3 L57.4,11.8 L59.9,12.6 L60.7,14.1 L61.7,15.6 L59.9,17.6 L61.2,19.1 L61.5,20.7 L64.2,20.6 L66.9,20.3 L69.4,19.3 L72.2,19.1 L74.5,17.4 L76.6,19.1 L77.8,21.8 L80.4,23.1 L81.5,26 L84.2,27.1 L85.9,29 L88.8,28.1 L90.9,29.2 L92.9,30.4 L94.7,32 L95,34.7 L97.4,36.1 L98.3,38.5 L100.3,40.1 L101.2,42.5 L101.3,46.6 L101.8,50.6 L102.1,54.7 L101.6,58.7 L102,62.8 L100.7,64.6 L98.8,66.2 L98.2,68.4 L96.6,70 L96.4,72.5 L92.8,73.1 L89.4,74.3 L86.5,76.5 L83.8,79.1 L80.2,79.8 L76.3,78.4 L72.2,77.6 L68.1,77.3 L64,77.6 L59.9,77.3 L57.5,76.7 L55.1,78.1 L52.6,76.4 L50.2,77.1 L47.8,77.3 L45.7,75 L43.6,72.7 L43.7,69.1 L42.4,66.3 L39.7,64.4 L39.6,66.3 L37.1,66.5 L36.9,68.4 L36.5,70.1 L34.8,70.9 L34.1,71.9 L32.6,71.2 L31.5,71.5 L31.5,73.9 L30,73.3 L28.6,71.8 L26,71.6 L25.5,69 L23.2,68.4 L21.9,66.8 L20.2,64.5 L18,62.8 L15.1,62.4 L13.5,59.9 L10.5,59.5 L8.5,57.2 L6.3,54.9 L5.9,51.6 L3,49.8 L2.4,46.6 L1.2,45 L1.2,43.1 L1.2,41.2 L-0.4,39.7 Z" fill="#C2BFA3"/>
<path d="M0,37.7 L3.2,20.7 L15.4,9.3 L25.1,5.3 L26,9 L17,14 L9,22 L6,32 L4,44 L2.4,46.6 Z" fill="#7C785C"/>
<path d="M18,13 L36.4,0 L47.8,7.7 L52,16 L44,28 L32,24 L22,22 Z" fill="#D9D8CE"/>
<path d="M46,24 L54,18 L60,22 L58,38 L55,58 L50,72 L44,64 L48,45 Z" fill="#D3D5DA"/>
<path d="M70,22 L74.5,17.4 L84.2,27.1 L94.7,32 L101.2,42.5 L102,62.8 L96.4,72.5 L80.2,79.8 L72,74 L78,60 L82,42 Z" fill="#CDCFD8"/>
<path d="M60,68 L72,70 L80.2,79.8 L62,77 Z" fill="#A9A796"/>
<path d="M10.5,59.5 L21.9,66.8 L30,73.3 L34.8,70.9 L30,64 L18,58 Z" fill="#8F8C70"/>
<path d="M5,46 L14,52 L12,40 L8,36 Z" fill="#D8D8CC"/>
<rect x="14" y="30" width="24" height="22.5" rx="8" transform="rotate(28 26 41)" fill="#A7A27D" stroke="#666038" stroke-width="2.2"/>
<path d="M19,45 L30,37 L34,46 L24,49 Z" fill="#CFCBB0"/>
<rect x="50.5" y="34" width="28.5" height="27" rx="9" transform="rotate(-8 64.8 47.4)" fill="#9E9874" stroke="#5E5836" stroke-width="2.2"/>
<ellipse cx="66" cy="49" rx="9" ry="8" fill="#ABA581"/>
<circle cx="58" cy="25" r="1.6" fill="#4A3A2A"/><circle cx="97" cy="35" r="1.5" fill="#5A2A20"/>
</g>
<text x="1351.59" y="1579.8" font-size="41.13" font-weight="normal" textLength="79.42" lengthAdjust="spacingAndGlyphs" fill="#000">SeB</text>
<text transform="translate(37.6,550.3) rotate(-90)" x="-2.76" y="0" font-size="41.3" textLength="112.12" lengthAdjust="spacingAndGlyphs">(Neμ)</text>
<text transform="translate(37.6,643.6) rotate(-90)" x="-3.01" y="0" font-size="41.3" textLength="78.13" lengthAdjust="spacingAndGlyphs">rate</text>
<text transform="translate(37.6,835.4) rotate(-90)" x="-3.06" y="0" font-size="41.3" textLength="176.75" lengthAdjust="spacingAndGlyphs">mutation</text>
<text transform="translate(37.6,897.7) rotate(-90)" x="-2.79" y="0" font-size="41.3" textLength="45.78" lengthAdjust="spacingAndGlyphs">by</text>
<text transform="translate(37.6,1037) rotate(-90)" x="-1.18" y="0" font-size="41.3" textLength="122.2" lengthAdjust="spacingAndGlyphs">scaled</text>
<text transform="translate(37.6,1127) rotate(-90)" x="-1.16" y="0" font-size="41.3" textLength="74.42" lengthAdjust="spacingAndGlyphs">size</text>
<text transform="translate(37.6,1347.1) rotate(-90)" x="-2.89" y="0" font-size="41.3" textLength="206.9" lengthAdjust="spacingAndGlyphs">population</text>
<text transform="translate(37.6,1530.7) rotate(-90)" x="-3.63" y="0" font-size="41.3" textLength="169.8" lengthAdjust="spacingAndGlyphs">Effective</text>
<text x="482.91" y="2007.4" font-size="40.7" font-weight="normal" textLength="592.75" lengthAdjust="spacingAndGlyphs" fill="#000">Time since present (million years)</text>
<rect x="1295" y="1966.4" width="178.5" height="70.8" fill="#fff" stroke="#555" stroke-width="1.3"/>
<line x1="1303.2" y1="1981.3" x2="1339.3" y2="1981.3" stroke="#222" stroke-width="1.3" stroke-dasharray="5.6,4.6"/>
<line x1="1303.9" y1="2024.3" x2="1343.4" y2="2024.3" stroke="#777" stroke-width="1.3"/>
<text x="1357.85" y="1990.9" font-size="29.8" font-weight="normal" textLength="102.07" lengthAdjust="spacingAndGlyphs" fill="#000">Median</text>
<text x="1356.13" y="2031.8" font-size="29.8" font-weight="normal" textLength="109.55" lengthAdjust="spacingAndGlyphs" fill="#000">95% CI</text>
</svg></body></html>
